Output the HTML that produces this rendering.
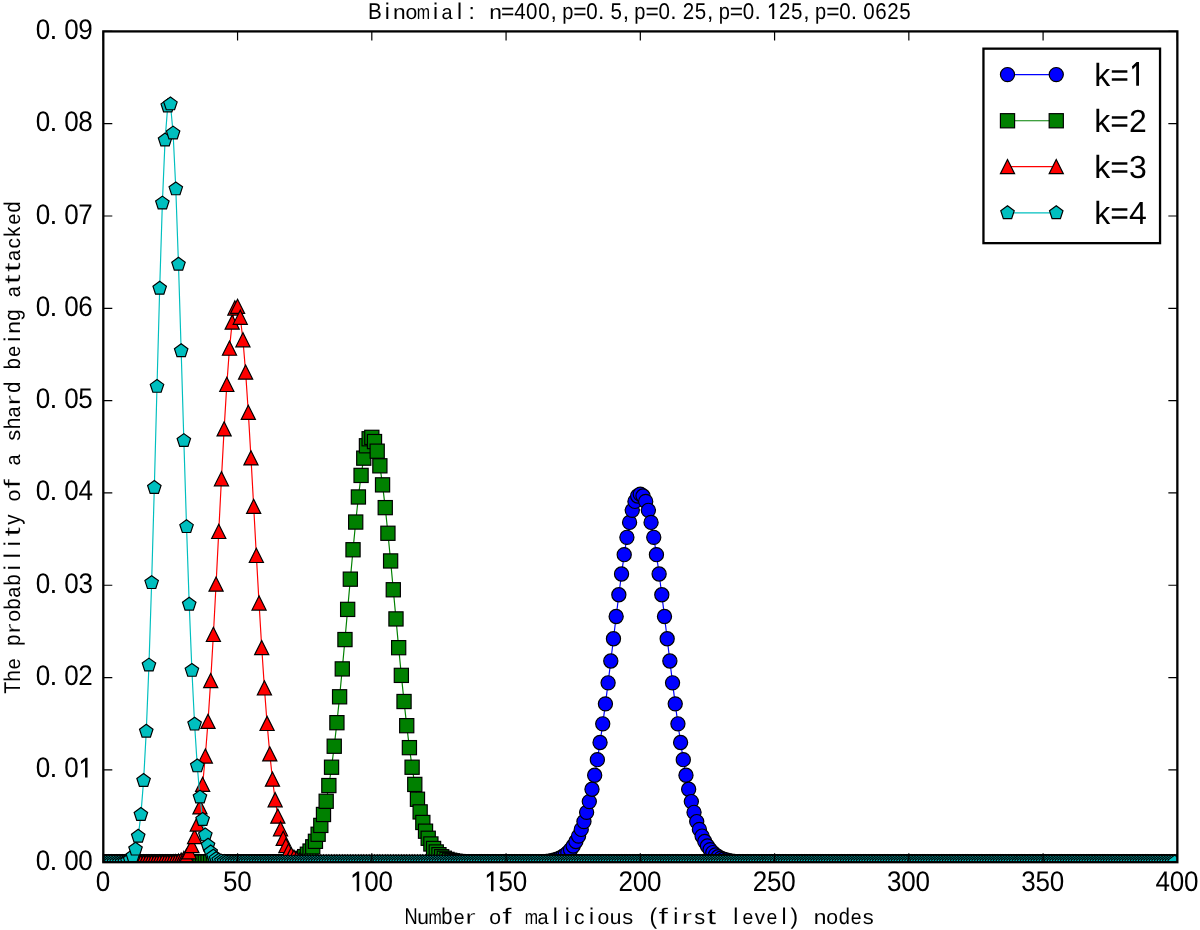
<!DOCTYPE html>
<html><head><meta charset="utf-8"><style>
html,body{margin:0;padding:0;background:#fff;}
svg{display:block;will-change:transform;}
text{font-family:"Liberation Sans",sans-serif;fill:#000;text-rendering:geometricPrecision;}
</style></head><body>
<svg width="1200" height="930" viewBox="0 0 1200 930">
<defs>
<path id="one" d="M0,-.693V0H-.088V-.576L-.232,-.468V-.568L-.065,-.693Z"/>
<circle id="m0" r="7.08" fill="#0000ff" stroke="#000" stroke-width="1.18"/>
<rect id="m1" x="-7.08" y="-7.08" width="14.17" height="14.17" fill="#008000" stroke="#000" stroke-width="1.18"/>
<path id="m2" d="M0,-7.08L-7.08,7.08L7.08,7.08Z" fill="#ff0000" stroke="#000" stroke-width="1.18" stroke-linejoin="miter"/>
<polygon id="m3" points="0,-7.08 6.74,-2.19 4.16,5.73 -4.16,5.73 -6.74,-2.19" fill="#00bfbf" stroke="#000" stroke-width="1.18"/>

<clipPath id="ax"><rect x="103.3" y="31.4" width="1074.05" height="830.8"/></clipPath>
</defs>
<rect width="1200" height="930" fill="#fff"/>
<g clip-path="url(#ax)">
<path d="M103.3,862.2 105.99,862.2 108.67,862.2 111.36,862.2 114.04,862.2 116.73,862.2 119.41,862.2 122.1,862.2 124.78,862.2 127.47,862.2 130.15,862.2 132.84,862.2 135.52,862.2 138.21,862.2 140.89,862.2 143.58,862.2 146.26,862.2 148.95,862.2 151.63,862.2 154.32,862.2 157,862.2 159.69,862.2 162.37,862.2 165.06,862.2 167.74,862.2 170.43,862.2 173.11,862.2 175.8,862.2 178.48,862.2 181.17,862.2 183.85,862.2 186.54,862.2 189.22,862.2 191.91,862.2 194.59,862.2 197.28,862.2 199.96,862.2 202.65,862.2 205.33,862.2 208.02,862.2 210.7,862.2 213.39,862.2 216.08,862.2 218.76,862.2 221.45,862.2 224.13,862.2 226.82,862.2 229.5,862.2 232.19,862.2 234.87,862.2 237.56,862.2 240.24,862.2 242.93,862.2 245.61,862.2 248.3,862.2 250.98,862.2 253.67,862.2 256.35,862.2 259.04,862.2 261.72,862.2 264.41,862.2 267.09,862.2 269.78,862.2 272.46,862.2 275.15,862.2 277.83,862.2 280.52,862.2 283.2,862.2 285.89,862.2 288.57,862.2 291.26,862.2 293.94,862.2 296.63,862.2 299.31,862.2 302,862.2 304.68,862.2 307.37,862.2 310.05,862.2 312.74,862.2 315.42,862.2 318.11,862.2 320.8,862.2 323.48,862.2 326.17,862.2 328.85,862.2 331.54,862.2 334.22,862.2 336.91,862.2 339.59,862.2 342.28,862.2 344.96,862.2 347.65,862.2 350.33,862.2 353.02,862.2 355.7,862.2 358.39,862.2 361.07,862.2 363.76,862.2 366.44,862.2 369.13,862.2 371.81,862.2 374.5,862.2 377.18,862.2 379.87,862.2 382.55,862.2 385.24,862.2 387.92,862.2 390.61,862.2 393.29,862.2 395.98,862.2 398.66,862.2 401.35,862.2 404.03,862.2 406.72,862.2 409.4,862.2 412.09,862.2 414.77,862.2 417.46,862.2 420.14,862.2 422.83,862.2 425.51,862.2 428.2,862.2 430.89,862.2 433.57,862.2 436.26,862.2 438.94,862.2 441.63,862.2 444.31,862.2 447,862.2 449.68,862.2 452.37,862.2 455.05,862.2 457.74,862.2 460.42,862.2 463.11,862.2 465.79,862.2 468.48,862.2 471.16,862.2 473.85,862.2 476.53,862.2 479.22,862.2 481.9,862.2 484.59,862.2 487.27,862.2 489.96,862.2 492.64,862.2 495.33,862.2 498.01,862.2 500.7,862.2 503.38,862.2 506.07,862.2 508.75,862.2 511.44,862.2 514.12,862.19 516.81,862.19 519.49,862.19 522.18,862.18 524.86,862.17 527.55,862.15 530.23,862.12 532.92,862.08 535.61,862.02 538.29,861.94 540.98,861.82 543.66,861.65 546.35,861.41 549.03,861.08 551.72,860.63 554.4,860.02 557.09,859.21 559.77,858.13 562.46,856.73 565.14,854.92 567.83,852.61 570.51,849.68 573.2,846.03 575.88,841.53 578.57,836.05 581.25,829.44 583.94,821.56 586.62,812.31 589.31,801.56 591.99,789.23 594.68,775.27 597.36,759.68 600.05,742.51 602.73,723.84 605.42,703.87 608.1,682.81 610.79,660.98 613.47,638.74 616.16,616.51 618.84,594.76 621.53,573.97 624.21,554.66 626.9,537.31 629.58,522.39 632.27,510.32 634.95,501.43 637.64,495.99 640.32,494.16 643.01,495.99 645.7,501.43 648.38,510.32 651.07,522.39 653.75,537.31 656.44,554.66 659.12,573.97 661.81,594.76 664.49,616.51 667.18,638.74 669.86,660.98 672.55,682.81 675.23,703.87 677.92,723.84 680.6,742.51 683.29,759.68 685.97,775.27 688.66,789.23 691.34,801.56 694.03,812.31 696.71,821.56 699.4,829.44 702.08,836.05 704.77,841.53 707.45,846.03 710.14,849.68 712.82,852.61 715.51,854.92 718.19,856.73 720.88,858.13 723.56,859.21 726.25,860.02 728.93,860.63 731.62,861.08 734.3,861.41 736.99,861.65 739.67,861.82 742.36,861.94 745.04,862.02 747.73,862.08 750.42,862.12 753.1,862.15 755.79,862.17 758.47,862.18 761.16,862.19 763.84,862.19 766.53,862.19 769.21,862.2 771.9,862.2 774.58,862.2 777.27,862.2 779.95,862.2 782.64,862.2 785.32,862.2 788.01,862.2 790.69,862.2 793.38,862.2 796.06,862.2 798.75,862.2 801.43,862.2 804.12,862.2 806.8,862.2 809.49,862.2 812.17,862.2 814.86,862.2 817.54,862.2 820.23,862.2 822.91,862.2 825.6,862.2 828.28,862.2 830.97,862.2 833.65,862.2 836.34,862.2 839.02,862.2 841.71,862.2 844.39,862.2 847.08,862.2 849.76,862.2 852.45,862.2 855.13,862.2 857.82,862.2 860.51,862.2 863.19,862.2 865.88,862.2 868.56,862.2 871.25,862.2 873.93,862.2 876.62,862.2 879.3,862.2 881.99,862.2 884.67,862.2 887.36,862.2 890.04,862.2 892.73,862.2 895.41,862.2 898.1,862.2 900.78,862.2 903.47,862.2 906.15,862.2 908.84,862.2 911.52,862.2 914.21,862.2 916.89,862.2 919.58,862.2 922.26,862.2 924.95,862.2 927.63,862.2 930.32,862.2 933,862.2 935.69,862.2 938.37,862.2 941.06,862.2 943.74,862.2 946.43,862.2 949.11,862.2 951.8,862.2 954.48,862.2 957.17,862.2 959.85,862.2 962.54,862.2 965.23,862.2 967.91,862.2 970.6,862.2 973.28,862.2 975.97,862.2 978.65,862.2 981.34,862.2 984.02,862.2 986.71,862.2 989.39,862.2 992.08,862.2 994.76,862.2 997.45,862.2 1000.13,862.2 1002.82,862.2 1005.5,862.2 1008.19,862.2 1010.87,862.2 1013.56,862.2 1016.24,862.2 1018.93,862.2 1021.61,862.2 1024.3,862.2 1026.98,862.2 1029.67,862.2 1032.35,862.2 1035.04,862.2 1037.72,862.2 1040.41,862.2 1043.09,862.2 1045.78,862.2 1048.46,862.2 1051.15,862.2 1053.83,862.2 1056.52,862.2 1059.2,862.2 1061.89,862.2 1064.57,862.2 1067.26,862.2 1069.94,862.2 1072.63,862.2 1075.32,862.2 1078,862.2 1080.69,862.2 1083.37,862.2 1086.06,862.2 1088.74,862.2 1091.43,862.2 1094.11,862.2 1096.8,862.2 1099.48,862.2 1102.17,862.2 1104.85,862.2 1107.54,862.2 1110.22,862.2 1112.91,862.2 1115.59,862.2 1118.28,862.2 1120.96,862.2 1123.65,862.2 1126.33,862.2 1129.02,862.2 1131.7,862.2 1134.39,862.2 1137.07,862.2 1139.76,862.2 1142.44,862.2 1145.13,862.2 1147.81,862.2 1150.5,862.2 1153.18,862.2 1155.87,862.2 1158.55,862.2 1161.24,862.2 1163.92,862.2 1166.61,862.2 1169.29,862.2 1171.98,862.2 1174.66,862.2" fill="none" stroke="#0000ff" stroke-width="1.18"/>
<use href="#m0" x="103.3" y="862.2"/><use href="#m0" x="105.99" y="862.2"/><use href="#m0" x="108.67" y="862.2"/><use href="#m0" x="111.36" y="862.2"/><use href="#m0" x="114.04" y="862.2"/><use href="#m0" x="116.73" y="862.2"/><use href="#m0" x="119.41" y="862.2"/><use href="#m0" x="122.1" y="862.2"/><use href="#m0" x="124.78" y="862.2"/><use href="#m0" x="127.47" y="862.2"/><use href="#m0" x="130.15" y="862.2"/><use href="#m0" x="132.84" y="862.2"/><use href="#m0" x="135.52" y="862.2"/><use href="#m0" x="138.21" y="862.2"/><use href="#m0" x="140.89" y="862.2"/><use href="#m0" x="143.58" y="862.2"/><use href="#m0" x="146.26" y="862.2"/><use href="#m0" x="148.95" y="862.2"/><use href="#m0" x="151.63" y="862.2"/><use href="#m0" x="154.32" y="862.2"/><use href="#m0" x="157" y="862.2"/><use href="#m0" x="159.69" y="862.2"/><use href="#m0" x="162.37" y="862.2"/><use href="#m0" x="165.06" y="862.2"/><use href="#m0" x="167.74" y="862.2"/><use href="#m0" x="170.43" y="862.2"/><use href="#m0" x="173.11" y="862.2"/><use href="#m0" x="175.8" y="862.2"/><use href="#m0" x="178.48" y="862.2"/><use href="#m0" x="181.17" y="862.2"/><use href="#m0" x="183.85" y="862.2"/><use href="#m0" x="186.54" y="862.2"/><use href="#m0" x="189.22" y="862.2"/><use href="#m0" x="191.91" y="862.2"/><use href="#m0" x="194.59" y="862.2"/><use href="#m0" x="197.28" y="862.2"/><use href="#m0" x="199.96" y="862.2"/><use href="#m0" x="202.65" y="862.2"/><use href="#m0" x="205.33" y="862.2"/><use href="#m0" x="208.02" y="862.2"/><use href="#m0" x="210.7" y="862.2"/><use href="#m0" x="213.39" y="862.2"/><use href="#m0" x="216.08" y="862.2"/><use href="#m0" x="218.76" y="862.2"/><use href="#m0" x="221.45" y="862.2"/><use href="#m0" x="224.13" y="862.2"/><use href="#m0" x="226.82" y="862.2"/><use href="#m0" x="229.5" y="862.2"/><use href="#m0" x="232.19" y="862.2"/><use href="#m0" x="234.87" y="862.2"/><use href="#m0" x="237.56" y="862.2"/><use href="#m0" x="240.24" y="862.2"/><use href="#m0" x="242.93" y="862.2"/><use href="#m0" x="245.61" y="862.2"/><use href="#m0" x="248.3" y="862.2"/><use href="#m0" x="250.98" y="862.2"/><use href="#m0" x="253.67" y="862.2"/><use href="#m0" x="256.35" y="862.2"/><use href="#m0" x="259.04" y="862.2"/><use href="#m0" x="261.72" y="862.2"/><use href="#m0" x="264.41" y="862.2"/><use href="#m0" x="267.09" y="862.2"/><use href="#m0" x="269.78" y="862.2"/><use href="#m0" x="272.46" y="862.2"/><use href="#m0" x="275.15" y="862.2"/><use href="#m0" x="277.83" y="862.2"/><use href="#m0" x="280.52" y="862.2"/><use href="#m0" x="283.2" y="862.2"/><use href="#m0" x="285.89" y="862.2"/><use href="#m0" x="288.57" y="862.2"/><use href="#m0" x="291.26" y="862.2"/><use href="#m0" x="293.94" y="862.2"/><use href="#m0" x="296.63" y="862.2"/><use href="#m0" x="299.31" y="862.2"/><use href="#m0" x="302" y="862.2"/><use href="#m0" x="304.68" y="862.2"/><use href="#m0" x="307.37" y="862.2"/><use href="#m0" x="310.05" y="862.2"/><use href="#m0" x="312.74" y="862.2"/><use href="#m0" x="315.42" y="862.2"/><use href="#m0" x="318.11" y="862.2"/><use href="#m0" x="320.8" y="862.2"/><use href="#m0" x="323.48" y="862.2"/><use href="#m0" x="326.17" y="862.2"/><use href="#m0" x="328.85" y="862.2"/><use href="#m0" x="331.54" y="862.2"/><use href="#m0" x="334.22" y="862.2"/><use href="#m0" x="336.91" y="862.2"/><use href="#m0" x="339.59" y="862.2"/><use href="#m0" x="342.28" y="862.2"/><use href="#m0" x="344.96" y="862.2"/><use href="#m0" x="347.65" y="862.2"/><use href="#m0" x="350.33" y="862.2"/><use href="#m0" x="353.02" y="862.2"/><use href="#m0" x="355.7" y="862.2"/><use href="#m0" x="358.39" y="862.2"/><use href="#m0" x="361.07" y="862.2"/><use href="#m0" x="363.76" y="862.2"/><use href="#m0" x="366.44" y="862.2"/><use href="#m0" x="369.13" y="862.2"/><use href="#m0" x="371.81" y="862.2"/><use href="#m0" x="374.5" y="862.2"/><use href="#m0" x="377.18" y="862.2"/><use href="#m0" x="379.87" y="862.2"/><use href="#m0" x="382.55" y="862.2"/><use href="#m0" x="385.24" y="862.2"/><use href="#m0" x="387.92" y="862.2"/><use href="#m0" x="390.61" y="862.2"/><use href="#m0" x="393.29" y="862.2"/><use href="#m0" x="395.98" y="862.2"/><use href="#m0" x="398.66" y="862.2"/><use href="#m0" x="401.35" y="862.2"/><use href="#m0" x="404.03" y="862.2"/><use href="#m0" x="406.72" y="862.2"/><use href="#m0" x="409.4" y="862.2"/><use href="#m0" x="412.09" y="862.2"/><use href="#m0" x="414.77" y="862.2"/><use href="#m0" x="417.46" y="862.2"/><use href="#m0" x="420.14" y="862.2"/><use href="#m0" x="422.83" y="862.2"/><use href="#m0" x="425.51" y="862.2"/><use href="#m0" x="428.2" y="862.2"/><use href="#m0" x="430.89" y="862.2"/><use href="#m0" x="433.57" y="862.2"/><use href="#m0" x="436.26" y="862.2"/><use href="#m0" x="438.94" y="862.2"/><use href="#m0" x="441.63" y="862.2"/><use href="#m0" x="444.31" y="862.2"/><use href="#m0" x="447" y="862.2"/><use href="#m0" x="449.68" y="862.2"/><use href="#m0" x="452.37" y="862.2"/><use href="#m0" x="455.05" y="862.2"/><use href="#m0" x="457.74" y="862.2"/><use href="#m0" x="460.42" y="862.2"/><use href="#m0" x="463.11" y="862.2"/><use href="#m0" x="465.79" y="862.2"/><use href="#m0" x="468.48" y="862.2"/><use href="#m0" x="471.16" y="862.2"/><use href="#m0" x="473.85" y="862.2"/><use href="#m0" x="476.53" y="862.2"/><use href="#m0" x="479.22" y="862.2"/><use href="#m0" x="481.9" y="862.2"/><use href="#m0" x="484.59" y="862.2"/><use href="#m0" x="487.27" y="862.2"/><use href="#m0" x="489.96" y="862.2"/><use href="#m0" x="492.64" y="862.2"/><use href="#m0" x="495.33" y="862.2"/><use href="#m0" x="498.01" y="862.2"/><use href="#m0" x="500.7" y="862.2"/><use href="#m0" x="503.38" y="862.2"/><use href="#m0" x="506.07" y="862.2"/><use href="#m0" x="508.75" y="862.2"/><use href="#m0" x="511.44" y="862.2"/><use href="#m0" x="514.12" y="862.19"/><use href="#m0" x="516.81" y="862.19"/><use href="#m0" x="519.49" y="862.19"/><use href="#m0" x="522.18" y="862.18"/><use href="#m0" x="524.86" y="862.17"/><use href="#m0" x="527.55" y="862.15"/><use href="#m0" x="530.23" y="862.12"/><use href="#m0" x="532.92" y="862.08"/><use href="#m0" x="535.61" y="862.02"/><use href="#m0" x="538.29" y="861.94"/><use href="#m0" x="540.98" y="861.82"/><use href="#m0" x="543.66" y="861.65"/><use href="#m0" x="546.35" y="861.41"/><use href="#m0" x="549.03" y="861.08"/><use href="#m0" x="551.72" y="860.63"/><use href="#m0" x="554.4" y="860.02"/><use href="#m0" x="557.09" y="859.21"/><use href="#m0" x="559.77" y="858.13"/><use href="#m0" x="562.46" y="856.73"/><use href="#m0" x="565.14" y="854.92"/><use href="#m0" x="567.83" y="852.61"/><use href="#m0" x="570.51" y="849.68"/><use href="#m0" x="573.2" y="846.03"/><use href="#m0" x="575.88" y="841.53"/><use href="#m0" x="578.57" y="836.05"/><use href="#m0" x="581.25" y="829.44"/><use href="#m0" x="583.94" y="821.56"/><use href="#m0" x="586.62" y="812.31"/><use href="#m0" x="589.31" y="801.56"/><use href="#m0" x="591.99" y="789.23"/><use href="#m0" x="594.68" y="775.27"/><use href="#m0" x="597.36" y="759.68"/><use href="#m0" x="600.05" y="742.51"/><use href="#m0" x="602.73" y="723.84"/><use href="#m0" x="605.42" y="703.87"/><use href="#m0" x="608.1" y="682.81"/><use href="#m0" x="610.79" y="660.98"/><use href="#m0" x="613.47" y="638.74"/><use href="#m0" x="616.16" y="616.51"/><use href="#m0" x="618.84" y="594.76"/><use href="#m0" x="621.53" y="573.97"/><use href="#m0" x="624.21" y="554.66"/><use href="#m0" x="626.9" y="537.31"/><use href="#m0" x="629.58" y="522.39"/><use href="#m0" x="632.27" y="510.32"/><use href="#m0" x="634.95" y="501.43"/><use href="#m0" x="637.64" y="495.99"/><use href="#m0" x="640.32" y="494.16"/><use href="#m0" x="643.01" y="495.99"/><use href="#m0" x="645.7" y="501.43"/><use href="#m0" x="648.38" y="510.32"/><use href="#m0" x="651.07" y="522.39"/><use href="#m0" x="653.75" y="537.31"/><use href="#m0" x="656.44" y="554.66"/><use href="#m0" x="659.12" y="573.97"/><use href="#m0" x="661.81" y="594.76"/><use href="#m0" x="664.49" y="616.51"/><use href="#m0" x="667.18" y="638.74"/><use href="#m0" x="669.86" y="660.98"/><use href="#m0" x="672.55" y="682.81"/><use href="#m0" x="675.23" y="703.87"/><use href="#m0" x="677.92" y="723.84"/><use href="#m0" x="680.6" y="742.51"/><use href="#m0" x="683.29" y="759.68"/><use href="#m0" x="685.97" y="775.27"/><use href="#m0" x="688.66" y="789.23"/><use href="#m0" x="691.34" y="801.56"/><use href="#m0" x="694.03" y="812.31"/><use href="#m0" x="696.71" y="821.56"/><use href="#m0" x="699.4" y="829.44"/><use href="#m0" x="702.08" y="836.05"/><use href="#m0" x="704.77" y="841.53"/><use href="#m0" x="707.45" y="846.03"/><use href="#m0" x="710.14" y="849.68"/><use href="#m0" x="712.82" y="852.61"/><use href="#m0" x="715.51" y="854.92"/><use href="#m0" x="718.19" y="856.73"/><use href="#m0" x="720.88" y="858.13"/><use href="#m0" x="723.56" y="859.21"/><use href="#m0" x="726.25" y="860.02"/><use href="#m0" x="728.93" y="860.63"/><use href="#m0" x="731.62" y="861.08"/><use href="#m0" x="734.3" y="861.41"/><use href="#m0" x="736.99" y="861.65"/><use href="#m0" x="739.67" y="861.82"/><use href="#m0" x="742.36" y="861.94"/><use href="#m0" x="745.04" y="862.02"/><use href="#m0" x="747.73" y="862.08"/><use href="#m0" x="750.42" y="862.12"/><use href="#m0" x="753.1" y="862.15"/><use href="#m0" x="755.79" y="862.17"/><use href="#m0" x="758.47" y="862.18"/><use href="#m0" x="761.16" y="862.19"/><use href="#m0" x="763.84" y="862.19"/><use href="#m0" x="766.53" y="862.19"/><use href="#m0" x="769.21" y="862.2"/><use href="#m0" x="771.9" y="862.2"/><use href="#m0" x="774.58" y="862.2"/><use href="#m0" x="777.27" y="862.2"/><use href="#m0" x="779.95" y="862.2"/><use href="#m0" x="782.64" y="862.2"/><use href="#m0" x="785.32" y="862.2"/><use href="#m0" x="788.01" y="862.2"/><use href="#m0" x="790.69" y="862.2"/><use href="#m0" x="793.38" y="862.2"/><use href="#m0" x="796.06" y="862.2"/><use href="#m0" x="798.75" y="862.2"/><use href="#m0" x="801.43" y="862.2"/><use href="#m0" x="804.12" y="862.2"/><use href="#m0" x="806.8" y="862.2"/><use href="#m0" x="809.49" y="862.2"/><use href="#m0" x="812.17" y="862.2"/><use href="#m0" x="814.86" y="862.2"/><use href="#m0" x="817.54" y="862.2"/><use href="#m0" x="820.23" y="862.2"/><use href="#m0" x="822.91" y="862.2"/><use href="#m0" x="825.6" y="862.2"/><use href="#m0" x="828.28" y="862.2"/><use href="#m0" x="830.97" y="862.2"/><use href="#m0" x="833.65" y="862.2"/><use href="#m0" x="836.34" y="862.2"/><use href="#m0" x="839.02" y="862.2"/><use href="#m0" x="841.71" y="862.2"/><use href="#m0" x="844.39" y="862.2"/><use href="#m0" x="847.08" y="862.2"/><use href="#m0" x="849.76" y="862.2"/><use href="#m0" x="852.45" y="862.2"/><use href="#m0" x="855.13" y="862.2"/><use href="#m0" x="857.82" y="862.2"/><use href="#m0" x="860.51" y="862.2"/><use href="#m0" x="863.19" y="862.2"/><use href="#m0" x="865.88" y="862.2"/><use href="#m0" x="868.56" y="862.2"/><use href="#m0" x="871.25" y="862.2"/><use href="#m0" x="873.93" y="862.2"/><use href="#m0" x="876.62" y="862.2"/><use href="#m0" x="879.3" y="862.2"/><use href="#m0" x="881.99" y="862.2"/><use href="#m0" x="884.67" y="862.2"/><use href="#m0" x="887.36" y="862.2"/><use href="#m0" x="890.04" y="862.2"/><use href="#m0" x="892.73" y="862.2"/><use href="#m0" x="895.41" y="862.2"/><use href="#m0" x="898.1" y="862.2"/><use href="#m0" x="900.78" y="862.2"/><use href="#m0" x="903.47" y="862.2"/><use href="#m0" x="906.15" y="862.2"/><use href="#m0" x="908.84" y="862.2"/><use href="#m0" x="911.52" y="862.2"/><use href="#m0" x="914.21" y="862.2"/><use href="#m0" x="916.89" y="862.2"/><use href="#m0" x="919.58" y="862.2"/><use href="#m0" x="922.26" y="862.2"/><use href="#m0" x="924.95" y="862.2"/><use href="#m0" x="927.63" y="862.2"/><use href="#m0" x="930.32" y="862.2"/><use href="#m0" x="933" y="862.2"/><use href="#m0" x="935.69" y="862.2"/><use href="#m0" x="938.37" y="862.2"/><use href="#m0" x="941.06" y="862.2"/><use href="#m0" x="943.74" y="862.2"/><use href="#m0" x="946.43" y="862.2"/><use href="#m0" x="949.11" y="862.2"/><use href="#m0" x="951.8" y="862.2"/><use href="#m0" x="954.48" y="862.2"/><use href="#m0" x="957.17" y="862.2"/><use href="#m0" x="959.85" y="862.2"/><use href="#m0" x="962.54" y="862.2"/><use href="#m0" x="965.23" y="862.2"/><use href="#m0" x="967.91" y="862.2"/><use href="#m0" x="970.6" y="862.2"/><use href="#m0" x="973.28" y="862.2"/><use href="#m0" x="975.97" y="862.2"/><use href="#m0" x="978.65" y="862.2"/><use href="#m0" x="981.34" y="862.2"/><use href="#m0" x="984.02" y="862.2"/><use href="#m0" x="986.71" y="862.2"/><use href="#m0" x="989.39" y="862.2"/><use href="#m0" x="992.08" y="862.2"/><use href="#m0" x="994.76" y="862.2"/><use href="#m0" x="997.45" y="862.2"/><use href="#m0" x="1000.13" y="862.2"/><use href="#m0" x="1002.82" y="862.2"/><use href="#m0" x="1005.5" y="862.2"/><use href="#m0" x="1008.19" y="862.2"/><use href="#m0" x="1010.87" y="862.2"/><use href="#m0" x="1013.56" y="862.2"/><use href="#m0" x="1016.24" y="862.2"/><use href="#m0" x="1018.93" y="862.2"/><use href="#m0" x="1021.61" y="862.2"/><use href="#m0" x="1024.3" y="862.2"/><use href="#m0" x="1026.98" y="862.2"/><use href="#m0" x="1029.67" y="862.2"/><use href="#m0" x="1032.35" y="862.2"/><use href="#m0" x="1035.04" y="862.2"/><use href="#m0" x="1037.72" y="862.2"/><use href="#m0" x="1040.41" y="862.2"/><use href="#m0" x="1043.09" y="862.2"/><use href="#m0" x="1045.78" y="862.2"/><use href="#m0" x="1048.46" y="862.2"/><use href="#m0" x="1051.15" y="862.2"/><use href="#m0" x="1053.83" y="862.2"/><use href="#m0" x="1056.52" y="862.2"/><use href="#m0" x="1059.2" y="862.2"/><use href="#m0" x="1061.89" y="862.2"/><use href="#m0" x="1064.57" y="862.2"/><use href="#m0" x="1067.26" y="862.2"/><use href="#m0" x="1069.94" y="862.2"/><use href="#m0" x="1072.63" y="862.2"/><use href="#m0" x="1075.32" y="862.2"/><use href="#m0" x="1078" y="862.2"/><use href="#m0" x="1080.69" y="862.2"/><use href="#m0" x="1083.37" y="862.2"/><use href="#m0" x="1086.06" y="862.2"/><use href="#m0" x="1088.74" y="862.2"/><use href="#m0" x="1091.43" y="862.2"/><use href="#m0" x="1094.11" y="862.2"/><use href="#m0" x="1096.8" y="862.2"/><use href="#m0" x="1099.48" y="862.2"/><use href="#m0" x="1102.17" y="862.2"/><use href="#m0" x="1104.85" y="862.2"/><use href="#m0" x="1107.54" y="862.2"/><use href="#m0" x="1110.22" y="862.2"/><use href="#m0" x="1112.91" y="862.2"/><use href="#m0" x="1115.59" y="862.2"/><use href="#m0" x="1118.28" y="862.2"/><use href="#m0" x="1120.96" y="862.2"/><use href="#m0" x="1123.65" y="862.2"/><use href="#m0" x="1126.33" y="862.2"/><use href="#m0" x="1129.02" y="862.2"/><use href="#m0" x="1131.7" y="862.2"/><use href="#m0" x="1134.39" y="862.2"/><use href="#m0" x="1137.07" y="862.2"/><use href="#m0" x="1139.76" y="862.2"/><use href="#m0" x="1142.44" y="862.2"/><use href="#m0" x="1145.13" y="862.2"/><use href="#m0" x="1147.81" y="862.2"/><use href="#m0" x="1150.5" y="862.2"/><use href="#m0" x="1153.18" y="862.2"/><use href="#m0" x="1155.87" y="862.2"/><use href="#m0" x="1158.55" y="862.2"/><use href="#m0" x="1161.24" y="862.2"/><use href="#m0" x="1163.92" y="862.2"/><use href="#m0" x="1166.61" y="862.2"/><use href="#m0" x="1169.29" y="862.2"/><use href="#m0" x="1171.98" y="862.2"/><use href="#m0" x="1174.66" y="862.2"/><path d="M103.3,862.2 105.99,862.2 108.67,862.2 111.36,862.2 114.04,862.2 116.73,862.2 119.41,862.2 122.1,862.2 124.78,862.2 127.47,862.2 130.15,862.2 132.84,862.2 135.52,862.2 138.21,862.2 140.89,862.2 143.58,862.2 146.26,862.2 148.95,862.2 151.63,862.2 154.32,862.2 157,862.2 159.69,862.2 162.37,862.2 165.06,862.2 167.74,862.2 170.43,862.2 173.11,862.2 175.8,862.2 178.48,862.2 181.17,862.2 183.85,862.2 186.54,862.2 189.22,862.2 191.91,862.2 194.59,862.2 197.28,862.2 199.96,862.2 202.65,862.2 205.33,862.2 208.02,862.2 210.7,862.2 213.39,862.2 216.08,862.2 218.76,862.2 221.45,862.2 224.13,862.2 226.82,862.2 229.5,862.2 232.19,862.2 234.87,862.2 237.56,862.2 240.24,862.2 242.93,862.2 245.61,862.2 248.3,862.2 250.98,862.2 253.67,862.2 256.35,862.2 259.04,862.2 261.72,862.2 264.41,862.2 267.09,862.19 269.78,862.19 272.46,862.18 275.15,862.16 277.83,862.14 280.52,862.09 283.2,862.02 285.89,861.91 288.57,861.73 291.26,861.46 293.94,861.06 296.63,860.46 299.31,859.59 302,858.35 304.68,856.63 307.37,854.26 310.05,851.06 312.74,846.83 315.42,841.31 318.11,834.26 320.8,825.41 323.48,814.49 326.17,801.27 328.85,785.55 331.54,767.22 334.22,746.23 336.91,722.68 339.59,696.79 342.28,668.91 344.96,639.56 347.65,609.39 350.33,579.16 353.02,549.74 355.7,522.04 358.39,496.97 361.07,475.41 363.76,458.14 366.44,445.77 369.13,438.76 371.81,437.34 374.5,441.55 377.18,451.17 379.87,465.81 382.55,484.86 385.24,507.62 387.92,533.27 390.61,560.94 393.29,589.76 395.98,618.92 398.66,647.67 401.35,675.37 404.03,701.51 406.72,725.68 409.4,747.64 412.09,767.23 414.77,784.42 417.46,799.27 420.14,811.89 422.83,822.46 425.51,831.18 428.2,838.27 430.89,843.96 433.57,848.46 436.26,851.97 438.94,854.67 441.63,856.72 444.31,858.26 447,859.4 449.68,860.23 452.37,860.83 455.05,861.26 457.74,861.56 460.42,861.77 463.11,861.92 465.79,862.01 468.48,862.08 471.16,862.12 473.85,862.15 476.53,862.17 479.22,862.18 481.9,862.19 484.59,862.19 487.27,862.2 489.96,862.2 492.64,862.2 495.33,862.2 498.01,862.2 500.7,862.2 503.38,862.2 506.07,862.2 508.75,862.2 511.44,862.2 514.12,862.2 516.81,862.2 519.49,862.2 522.18,862.2 524.86,862.2 527.55,862.2 530.23,862.2 532.92,862.2 535.61,862.2 538.29,862.2 540.98,862.2 543.66,862.2 546.35,862.2 549.03,862.2 551.72,862.2 554.4,862.2 557.09,862.2 559.77,862.2 562.46,862.2 565.14,862.2 567.83,862.2 570.51,862.2 573.2,862.2 575.88,862.2 578.57,862.2 581.25,862.2 583.94,862.2 586.62,862.2 589.31,862.2 591.99,862.2 594.68,862.2 597.36,862.2 600.05,862.2 602.73,862.2 605.42,862.2 608.1,862.2 610.79,862.2 613.47,862.2 616.16,862.2 618.84,862.2 621.53,862.2 624.21,862.2 626.9,862.2 629.58,862.2 632.27,862.2 634.95,862.2 637.64,862.2 640.32,862.2 643.01,862.2 645.7,862.2 648.38,862.2 651.07,862.2 653.75,862.2 656.44,862.2 659.12,862.2 661.81,862.2 664.49,862.2 667.18,862.2 669.86,862.2 672.55,862.2 675.23,862.2 677.92,862.2 680.6,862.2 683.29,862.2 685.97,862.2 688.66,862.2 691.34,862.2 694.03,862.2 696.71,862.2 699.4,862.2 702.08,862.2 704.77,862.2 707.45,862.2 710.14,862.2 712.82,862.2 715.51,862.2 718.19,862.2 720.88,862.2 723.56,862.2 726.25,862.2 728.93,862.2 731.62,862.2 734.3,862.2 736.99,862.2 739.67,862.2 742.36,862.2 745.04,862.2 747.73,862.2 750.42,862.2 753.1,862.2 755.79,862.2 758.47,862.2 761.16,862.2 763.84,862.2 766.53,862.2 769.21,862.2 771.9,862.2 774.58,862.2 777.27,862.2 779.95,862.2 782.64,862.2 785.32,862.2 788.01,862.2 790.69,862.2 793.38,862.2 796.06,862.2 798.75,862.2 801.43,862.2 804.12,862.2 806.8,862.2 809.49,862.2 812.17,862.2 814.86,862.2 817.54,862.2 820.23,862.2 822.91,862.2 825.6,862.2 828.28,862.2 830.97,862.2 833.65,862.2 836.34,862.2 839.02,862.2 841.71,862.2 844.39,862.2 847.08,862.2 849.76,862.2 852.45,862.2 855.13,862.2 857.82,862.2 860.51,862.2 863.19,862.2 865.88,862.2 868.56,862.2 871.25,862.2 873.93,862.2 876.62,862.2 879.3,862.2 881.99,862.2 884.67,862.2 887.36,862.2 890.04,862.2 892.73,862.2 895.41,862.2 898.1,862.2 900.78,862.2 903.47,862.2 906.15,862.2 908.84,862.2 911.52,862.2 914.21,862.2 916.89,862.2 919.58,862.2 922.26,862.2 924.95,862.2 927.63,862.2 930.32,862.2 933,862.2 935.69,862.2 938.37,862.2 941.06,862.2 943.74,862.2 946.43,862.2 949.11,862.2 951.8,862.2 954.48,862.2 957.17,862.2 959.85,862.2 962.54,862.2 965.23,862.2 967.91,862.2 970.6,862.2 973.28,862.2 975.97,862.2 978.65,862.2 981.34,862.2 984.02,862.2 986.71,862.2 989.39,862.2 992.08,862.2 994.76,862.2 997.45,862.2 1000.13,862.2 1002.82,862.2 1005.5,862.2 1008.19,862.2 1010.87,862.2 1013.56,862.2 1016.24,862.2 1018.93,862.2 1021.61,862.2 1024.3,862.2 1026.98,862.2 1029.67,862.2 1032.35,862.2 1035.04,862.2 1037.72,862.2 1040.41,862.2 1043.09,862.2 1045.78,862.2 1048.46,862.2 1051.15,862.2 1053.83,862.2 1056.52,862.2 1059.2,862.2 1061.89,862.2 1064.57,862.2 1067.26,862.2 1069.94,862.2 1072.63,862.2 1075.32,862.2 1078,862.2 1080.69,862.2 1083.37,862.2 1086.06,862.2 1088.74,862.2 1091.43,862.2 1094.11,862.2 1096.8,862.2 1099.48,862.2 1102.17,862.2 1104.85,862.2 1107.54,862.2 1110.22,862.2 1112.91,862.2 1115.59,862.2 1118.28,862.2 1120.96,862.2 1123.65,862.2 1126.33,862.2 1129.02,862.2 1131.7,862.2 1134.39,862.2 1137.07,862.2 1139.76,862.2 1142.44,862.2 1145.13,862.2 1147.81,862.2 1150.5,862.2 1153.18,862.2 1155.87,862.2 1158.55,862.2 1161.24,862.2 1163.92,862.2 1166.61,862.2 1169.29,862.2 1171.98,862.2 1174.66,862.2" fill="none" stroke="#008000" stroke-width="1.18"/>
<use href="#m1" x="103.3" y="862.2"/><use href="#m1" x="105.99" y="862.2"/><use href="#m1" x="108.67" y="862.2"/><use href="#m1" x="111.36" y="862.2"/><use href="#m1" x="114.04" y="862.2"/><use href="#m1" x="116.73" y="862.2"/><use href="#m1" x="119.41" y="862.2"/><use href="#m1" x="122.1" y="862.2"/><use href="#m1" x="124.78" y="862.2"/><use href="#m1" x="127.47" y="862.2"/><use href="#m1" x="130.15" y="862.2"/><use href="#m1" x="132.84" y="862.2"/><use href="#m1" x="135.52" y="862.2"/><use href="#m1" x="138.21" y="862.2"/><use href="#m1" x="140.89" y="862.2"/><use href="#m1" x="143.58" y="862.2"/><use href="#m1" x="146.26" y="862.2"/><use href="#m1" x="148.95" y="862.2"/><use href="#m1" x="151.63" y="862.2"/><use href="#m1" x="154.32" y="862.2"/><use href="#m1" x="157" y="862.2"/><use href="#m1" x="159.69" y="862.2"/><use href="#m1" x="162.37" y="862.2"/><use href="#m1" x="165.06" y="862.2"/><use href="#m1" x="167.74" y="862.2"/><use href="#m1" x="170.43" y="862.2"/><use href="#m1" x="173.11" y="862.2"/><use href="#m1" x="175.8" y="862.2"/><use href="#m1" x="178.48" y="862.2"/><use href="#m1" x="181.17" y="862.2"/><use href="#m1" x="183.85" y="862.2"/><use href="#m1" x="186.54" y="862.2"/><use href="#m1" x="189.22" y="862.2"/><use href="#m1" x="191.91" y="862.2"/><use href="#m1" x="194.59" y="862.2"/><use href="#m1" x="197.28" y="862.2"/><use href="#m1" x="199.96" y="862.2"/><use href="#m1" x="202.65" y="862.2"/><use href="#m1" x="205.33" y="862.2"/><use href="#m1" x="208.02" y="862.2"/><use href="#m1" x="210.7" y="862.2"/><use href="#m1" x="213.39" y="862.2"/><use href="#m1" x="216.08" y="862.2"/><use href="#m1" x="218.76" y="862.2"/><use href="#m1" x="221.45" y="862.2"/><use href="#m1" x="224.13" y="862.2"/><use href="#m1" x="226.82" y="862.2"/><use href="#m1" x="229.5" y="862.2"/><use href="#m1" x="232.19" y="862.2"/><use href="#m1" x="234.87" y="862.2"/><use href="#m1" x="237.56" y="862.2"/><use href="#m1" x="240.24" y="862.2"/><use href="#m1" x="242.93" y="862.2"/><use href="#m1" x="245.61" y="862.2"/><use href="#m1" x="248.3" y="862.2"/><use href="#m1" x="250.98" y="862.2"/><use href="#m1" x="253.67" y="862.2"/><use href="#m1" x="256.35" y="862.2"/><use href="#m1" x="259.04" y="862.2"/><use href="#m1" x="261.72" y="862.2"/><use href="#m1" x="264.41" y="862.2"/><use href="#m1" x="267.09" y="862.19"/><use href="#m1" x="269.78" y="862.19"/><use href="#m1" x="272.46" y="862.18"/><use href="#m1" x="275.15" y="862.16"/><use href="#m1" x="277.83" y="862.14"/><use href="#m1" x="280.52" y="862.09"/><use href="#m1" x="283.2" y="862.02"/><use href="#m1" x="285.89" y="861.91"/><use href="#m1" x="288.57" y="861.73"/><use href="#m1" x="291.26" y="861.46"/><use href="#m1" x="293.94" y="861.06"/><use href="#m1" x="296.63" y="860.46"/><use href="#m1" x="299.31" y="859.59"/><use href="#m1" x="302" y="858.35"/><use href="#m1" x="304.68" y="856.63"/><use href="#m1" x="307.37" y="854.26"/><use href="#m1" x="310.05" y="851.06"/><use href="#m1" x="312.74" y="846.83"/><use href="#m1" x="315.42" y="841.31"/><use href="#m1" x="318.11" y="834.26"/><use href="#m1" x="320.8" y="825.41"/><use href="#m1" x="323.48" y="814.49"/><use href="#m1" x="326.17" y="801.27"/><use href="#m1" x="328.85" y="785.55"/><use href="#m1" x="331.54" y="767.22"/><use href="#m1" x="334.22" y="746.23"/><use href="#m1" x="336.91" y="722.68"/><use href="#m1" x="339.59" y="696.79"/><use href="#m1" x="342.28" y="668.91"/><use href="#m1" x="344.96" y="639.56"/><use href="#m1" x="347.65" y="609.39"/><use href="#m1" x="350.33" y="579.16"/><use href="#m1" x="353.02" y="549.74"/><use href="#m1" x="355.7" y="522.04"/><use href="#m1" x="358.39" y="496.97"/><use href="#m1" x="361.07" y="475.41"/><use href="#m1" x="363.76" y="458.14"/><use href="#m1" x="366.44" y="445.77"/><use href="#m1" x="369.13" y="438.76"/><use href="#m1" x="371.81" y="437.34"/><use href="#m1" x="374.5" y="441.55"/><use href="#m1" x="377.18" y="451.17"/><use href="#m1" x="379.87" y="465.81"/><use href="#m1" x="382.55" y="484.86"/><use href="#m1" x="385.24" y="507.62"/><use href="#m1" x="387.92" y="533.27"/><use href="#m1" x="390.61" y="560.94"/><use href="#m1" x="393.29" y="589.76"/><use href="#m1" x="395.98" y="618.92"/><use href="#m1" x="398.66" y="647.67"/><use href="#m1" x="401.35" y="675.37"/><use href="#m1" x="404.03" y="701.51"/><use href="#m1" x="406.72" y="725.68"/><use href="#m1" x="409.4" y="747.64"/><use href="#m1" x="412.09" y="767.23"/><use href="#m1" x="414.77" y="784.42"/><use href="#m1" x="417.46" y="799.27"/><use href="#m1" x="420.14" y="811.89"/><use href="#m1" x="422.83" y="822.46"/><use href="#m1" x="425.51" y="831.18"/><use href="#m1" x="428.2" y="838.27"/><use href="#m1" x="430.89" y="843.96"/><use href="#m1" x="433.57" y="848.46"/><use href="#m1" x="436.26" y="851.97"/><use href="#m1" x="438.94" y="854.67"/><use href="#m1" x="441.63" y="856.72"/><use href="#m1" x="444.31" y="858.26"/><use href="#m1" x="447" y="859.4"/><use href="#m1" x="449.68" y="860.23"/><use href="#m1" x="452.37" y="860.83"/><use href="#m1" x="455.05" y="861.26"/><use href="#m1" x="457.74" y="861.56"/><use href="#m1" x="460.42" y="861.77"/><use href="#m1" x="463.11" y="861.92"/><use href="#m1" x="465.79" y="862.01"/><use href="#m1" x="468.48" y="862.08"/><use href="#m1" x="471.16" y="862.12"/><use href="#m1" x="473.85" y="862.15"/><use href="#m1" x="476.53" y="862.17"/><use href="#m1" x="479.22" y="862.18"/><use href="#m1" x="481.9" y="862.19"/><use href="#m1" x="484.59" y="862.19"/><use href="#m1" x="487.27" y="862.2"/><use href="#m1" x="489.96" y="862.2"/><use href="#m1" x="492.64" y="862.2"/><use href="#m1" x="495.33" y="862.2"/><use href="#m1" x="498.01" y="862.2"/><use href="#m1" x="500.7" y="862.2"/><use href="#m1" x="503.38" y="862.2"/><use href="#m1" x="506.07" y="862.2"/><use href="#m1" x="508.75" y="862.2"/><use href="#m1" x="511.44" y="862.2"/><use href="#m1" x="514.12" y="862.2"/><use href="#m1" x="516.81" y="862.2"/><use href="#m1" x="519.49" y="862.2"/><use href="#m1" x="522.18" y="862.2"/><use href="#m1" x="524.86" y="862.2"/><use href="#m1" x="527.55" y="862.2"/><use href="#m1" x="530.23" y="862.2"/><use href="#m1" x="532.92" y="862.2"/><use href="#m1" x="535.61" y="862.2"/><use href="#m1" x="538.29" y="862.2"/><use href="#m1" x="540.98" y="862.2"/><use href="#m1" x="543.66" y="862.2"/><use href="#m1" x="546.35" y="862.2"/><use href="#m1" x="549.03" y="862.2"/><use href="#m1" x="551.72" y="862.2"/><use href="#m1" x="554.4" y="862.2"/><use href="#m1" x="557.09" y="862.2"/><use href="#m1" x="559.77" y="862.2"/><use href="#m1" x="562.46" y="862.2"/><use href="#m1" x="565.14" y="862.2"/><use href="#m1" x="567.83" y="862.2"/><use href="#m1" x="570.51" y="862.2"/><use href="#m1" x="573.2" y="862.2"/><use href="#m1" x="575.88" y="862.2"/><use href="#m1" x="578.57" y="862.2"/><use href="#m1" x="581.25" y="862.2"/><use href="#m1" x="583.94" y="862.2"/><use href="#m1" x="586.62" y="862.2"/><use href="#m1" x="589.31" y="862.2"/><use href="#m1" x="591.99" y="862.2"/><use href="#m1" x="594.68" y="862.2"/><use href="#m1" x="597.36" y="862.2"/><use href="#m1" x="600.05" y="862.2"/><use href="#m1" x="602.73" y="862.2"/><use href="#m1" x="605.42" y="862.2"/><use href="#m1" x="608.1" y="862.2"/><use href="#m1" x="610.79" y="862.2"/><use href="#m1" x="613.47" y="862.2"/><use href="#m1" x="616.16" y="862.2"/><use href="#m1" x="618.84" y="862.2"/><use href="#m1" x="621.53" y="862.2"/><use href="#m1" x="624.21" y="862.2"/><use href="#m1" x="626.9" y="862.2"/><use href="#m1" x="629.58" y="862.2"/><use href="#m1" x="632.27" y="862.2"/><use href="#m1" x="634.95" y="862.2"/><use href="#m1" x="637.64" y="862.2"/><use href="#m1" x="640.32" y="862.2"/><use href="#m1" x="643.01" y="862.2"/><use href="#m1" x="645.7" y="862.2"/><use href="#m1" x="648.38" y="862.2"/><use href="#m1" x="651.07" y="862.2"/><use href="#m1" x="653.75" y="862.2"/><use href="#m1" x="656.44" y="862.2"/><use href="#m1" x="659.12" y="862.2"/><use href="#m1" x="661.81" y="862.2"/><use href="#m1" x="664.49" y="862.2"/><use href="#m1" x="667.18" y="862.2"/><use href="#m1" x="669.86" y="862.2"/><use href="#m1" x="672.55" y="862.2"/><use href="#m1" x="675.23" y="862.2"/><use href="#m1" x="677.92" y="862.2"/><use href="#m1" x="680.6" y="862.2"/><use href="#m1" x="683.29" y="862.2"/><use href="#m1" x="685.97" y="862.2"/><use href="#m1" x="688.66" y="862.2"/><use href="#m1" x="691.34" y="862.2"/><use href="#m1" x="694.03" y="862.2"/><use href="#m1" x="696.71" y="862.2"/><use href="#m1" x="699.4" y="862.2"/><use href="#m1" x="702.08" y="862.2"/><use href="#m1" x="704.77" y="862.2"/><use href="#m1" x="707.45" y="862.2"/><use href="#m1" x="710.14" y="862.2"/><use href="#m1" x="712.82" y="862.2"/><use href="#m1" x="715.51" y="862.2"/><use href="#m1" x="718.19" y="862.2"/><use href="#m1" x="720.88" y="862.2"/><use href="#m1" x="723.56" y="862.2"/><use href="#m1" x="726.25" y="862.2"/><use href="#m1" x="728.93" y="862.2"/><use href="#m1" x="731.62" y="862.2"/><use href="#m1" x="734.3" y="862.2"/><use href="#m1" x="736.99" y="862.2"/><use href="#m1" x="739.67" y="862.2"/><use href="#m1" x="742.36" y="862.2"/><use href="#m1" x="745.04" y="862.2"/><use href="#m1" x="747.73" y="862.2"/><use href="#m1" x="750.42" y="862.2"/><use href="#m1" x="753.1" y="862.2"/><use href="#m1" x="755.79" y="862.2"/><use href="#m1" x="758.47" y="862.2"/><use href="#m1" x="761.16" y="862.2"/><use href="#m1" x="763.84" y="862.2"/><use href="#m1" x="766.53" y="862.2"/><use href="#m1" x="769.21" y="862.2"/><use href="#m1" x="771.9" y="862.2"/><use href="#m1" x="774.58" y="862.2"/><use href="#m1" x="777.27" y="862.2"/><use href="#m1" x="779.95" y="862.2"/><use href="#m1" x="782.64" y="862.2"/><use href="#m1" x="785.32" y="862.2"/><use href="#m1" x="788.01" y="862.2"/><use href="#m1" x="790.69" y="862.2"/><use href="#m1" x="793.38" y="862.2"/><use href="#m1" x="796.06" y="862.2"/><use href="#m1" x="798.75" y="862.2"/><use href="#m1" x="801.43" y="862.2"/><use href="#m1" x="804.12" y="862.2"/><use href="#m1" x="806.8" y="862.2"/><use href="#m1" x="809.49" y="862.2"/><use href="#m1" x="812.17" y="862.2"/><use href="#m1" x="814.86" y="862.2"/><use href="#m1" x="817.54" y="862.2"/><use href="#m1" x="820.23" y="862.2"/><use href="#m1" x="822.91" y="862.2"/><use href="#m1" x="825.6" y="862.2"/><use href="#m1" x="828.28" y="862.2"/><use href="#m1" x="830.97" y="862.2"/><use href="#m1" x="833.65" y="862.2"/><use href="#m1" x="836.34" y="862.2"/><use href="#m1" x="839.02" y="862.2"/><use href="#m1" x="841.71" y="862.2"/><use href="#m1" x="844.39" y="862.2"/><use href="#m1" x="847.08" y="862.2"/><use href="#m1" x="849.76" y="862.2"/><use href="#m1" x="852.45" y="862.2"/><use href="#m1" x="855.13" y="862.2"/><use href="#m1" x="857.82" y="862.2"/><use href="#m1" x="860.51" y="862.2"/><use href="#m1" x="863.19" y="862.2"/><use href="#m1" x="865.88" y="862.2"/><use href="#m1" x="868.56" y="862.2"/><use href="#m1" x="871.25" y="862.2"/><use href="#m1" x="873.93" y="862.2"/><use href="#m1" x="876.62" y="862.2"/><use href="#m1" x="879.3" y="862.2"/><use href="#m1" x="881.99" y="862.2"/><use href="#m1" x="884.67" y="862.2"/><use href="#m1" x="887.36" y="862.2"/><use href="#m1" x="890.04" y="862.2"/><use href="#m1" x="892.73" y="862.2"/><use href="#m1" x="895.41" y="862.2"/><use href="#m1" x="898.1" y="862.2"/><use href="#m1" x="900.78" y="862.2"/><use href="#m1" x="903.47" y="862.2"/><use href="#m1" x="906.15" y="862.2"/><use href="#m1" x="908.84" y="862.2"/><use href="#m1" x="911.52" y="862.2"/><use href="#m1" x="914.21" y="862.2"/><use href="#m1" x="916.89" y="862.2"/><use href="#m1" x="919.58" y="862.2"/><use href="#m1" x="922.26" y="862.2"/><use href="#m1" x="924.95" y="862.2"/><use href="#m1" x="927.63" y="862.2"/><use href="#m1" x="930.32" y="862.2"/><use href="#m1" x="933" y="862.2"/><use href="#m1" x="935.69" y="862.2"/><use href="#m1" x="938.37" y="862.2"/><use href="#m1" x="941.06" y="862.2"/><use href="#m1" x="943.74" y="862.2"/><use href="#m1" x="946.43" y="862.2"/><use href="#m1" x="949.11" y="862.2"/><use href="#m1" x="951.8" y="862.2"/><use href="#m1" x="954.48" y="862.2"/><use href="#m1" x="957.17" y="862.2"/><use href="#m1" x="959.85" y="862.2"/><use href="#m1" x="962.54" y="862.2"/><use href="#m1" x="965.23" y="862.2"/><use href="#m1" x="967.91" y="862.2"/><use href="#m1" x="970.6" y="862.2"/><use href="#m1" x="973.28" y="862.2"/><use href="#m1" x="975.97" y="862.2"/><use href="#m1" x="978.65" y="862.2"/><use href="#m1" x="981.34" y="862.2"/><use href="#m1" x="984.02" y="862.2"/><use href="#m1" x="986.71" y="862.2"/><use href="#m1" x="989.39" y="862.2"/><use href="#m1" x="992.08" y="862.2"/><use href="#m1" x="994.76" y="862.2"/><use href="#m1" x="997.45" y="862.2"/><use href="#m1" x="1000.13" y="862.2"/><use href="#m1" x="1002.82" y="862.2"/><use href="#m1" x="1005.5" y="862.2"/><use href="#m1" x="1008.19" y="862.2"/><use href="#m1" x="1010.87" y="862.2"/><use href="#m1" x="1013.56" y="862.2"/><use href="#m1" x="1016.24" y="862.2"/><use href="#m1" x="1018.93" y="862.2"/><use href="#m1" x="1021.61" y="862.2"/><use href="#m1" x="1024.3" y="862.2"/><use href="#m1" x="1026.98" y="862.2"/><use href="#m1" x="1029.67" y="862.2"/><use href="#m1" x="1032.35" y="862.2"/><use href="#m1" x="1035.04" y="862.2"/><use href="#m1" x="1037.72" y="862.2"/><use href="#m1" x="1040.41" y="862.2"/><use href="#m1" x="1043.09" y="862.2"/><use href="#m1" x="1045.78" y="862.2"/><use href="#m1" x="1048.46" y="862.2"/><use href="#m1" x="1051.15" y="862.2"/><use href="#m1" x="1053.83" y="862.2"/><use href="#m1" x="1056.52" y="862.2"/><use href="#m1" x="1059.2" y="862.2"/><use href="#m1" x="1061.89" y="862.2"/><use href="#m1" x="1064.57" y="862.2"/><use href="#m1" x="1067.26" y="862.2"/><use href="#m1" x="1069.94" y="862.2"/><use href="#m1" x="1072.63" y="862.2"/><use href="#m1" x="1075.32" y="862.2"/><use href="#m1" x="1078" y="862.2"/><use href="#m1" x="1080.69" y="862.2"/><use href="#m1" x="1083.37" y="862.2"/><use href="#m1" x="1086.06" y="862.2"/><use href="#m1" x="1088.74" y="862.2"/><use href="#m1" x="1091.43" y="862.2"/><use href="#m1" x="1094.11" y="862.2"/><use href="#m1" x="1096.8" y="862.2"/><use href="#m1" x="1099.48" y="862.2"/><use href="#m1" x="1102.17" y="862.2"/><use href="#m1" x="1104.85" y="862.2"/><use href="#m1" x="1107.54" y="862.2"/><use href="#m1" x="1110.22" y="862.2"/><use href="#m1" x="1112.91" y="862.2"/><use href="#m1" x="1115.59" y="862.2"/><use href="#m1" x="1118.28" y="862.2"/><use href="#m1" x="1120.96" y="862.2"/><use href="#m1" x="1123.65" y="862.2"/><use href="#m1" x="1126.33" y="862.2"/><use href="#m1" x="1129.02" y="862.2"/><use href="#m1" x="1131.7" y="862.2"/><use href="#m1" x="1134.39" y="862.2"/><use href="#m1" x="1137.07" y="862.2"/><use href="#m1" x="1139.76" y="862.2"/><use href="#m1" x="1142.44" y="862.2"/><use href="#m1" x="1145.13" y="862.2"/><use href="#m1" x="1147.81" y="862.2"/><use href="#m1" x="1150.5" y="862.2"/><use href="#m1" x="1153.18" y="862.2"/><use href="#m1" x="1155.87" y="862.2"/><use href="#m1" x="1158.55" y="862.2"/><use href="#m1" x="1161.24" y="862.2"/><use href="#m1" x="1163.92" y="862.2"/><use href="#m1" x="1166.61" y="862.2"/><use href="#m1" x="1169.29" y="862.2"/><use href="#m1" x="1171.98" y="862.2"/><use href="#m1" x="1174.66" y="862.2"/><path d="M103.3,862.2 105.99,862.2 108.67,862.2 111.36,862.2 114.04,862.2 116.73,862.2 119.41,862.2 122.1,862.2 124.78,862.2 127.47,862.2 130.15,862.2 132.84,862.2 135.52,862.2 138.21,862.2 140.89,862.2 143.58,862.2 146.26,862.2 148.95,862.2 151.63,862.2 154.32,862.2 157,862.2 159.69,862.19 162.37,862.19 165.06,862.17 167.74,862.13 170.43,862.05 173.11,861.9 175.8,861.6 178.48,861.05 181.17,860.1 183.85,858.49 186.54,855.87 189.22,851.78 191.91,845.6 194.59,836.6 197.28,823.96 199.96,806.82 202.65,784.37 205.33,755.98 208.02,721.35 210.7,680.61 213.39,634.42 216.08,584.06 218.76,531.39 221.45,478.76 224.13,428.85 226.82,384.44 229.5,348.14 232.19,322.13 234.87,307.96 237.56,306.37 240.24,317.27 242.93,339.73 245.61,372.12 248.3,412.31 250.98,457.88 253.67,506.36 256.35,555.41 259.04,603.02 261.72,647.57 264.41,687.94 267.09,723.45 269.78,753.82 272.46,779.13 275.15,799.71 277.83,816.06 280.52,828.74 283.2,838.37 285.89,845.53 288.57,850.74 291.26,854.46 293.94,857.06 296.63,858.85 299.31,860.05 302,860.84 304.68,861.36 307.37,861.68 310.05,861.89 312.74,862.02 315.42,862.09 318.11,862.14 320.8,862.17 323.48,862.18 326.17,862.19 328.85,862.19 331.54,862.2 334.22,862.2 336.91,862.2 339.59,862.2 342.28,862.2 344.96,862.2 347.65,862.2 350.33,862.2 353.02,862.2 355.7,862.2 358.39,862.2 361.07,862.2 363.76,862.2 366.44,862.2 369.13,862.2 371.81,862.2 374.5,862.2 377.18,862.2 379.87,862.2 382.55,862.2 385.24,862.2 387.92,862.2 390.61,862.2 393.29,862.2 395.98,862.2 398.66,862.2 401.35,862.2 404.03,862.2 406.72,862.2 409.4,862.2 412.09,862.2 414.77,862.2 417.46,862.2 420.14,862.2 422.83,862.2 425.51,862.2 428.2,862.2 430.89,862.2 433.57,862.2 436.26,862.2 438.94,862.2 441.63,862.2 444.31,862.2 447,862.2 449.68,862.2 452.37,862.2 455.05,862.2 457.74,862.2 460.42,862.2 463.11,862.2 465.79,862.2 468.48,862.2 471.16,862.2 473.85,862.2 476.53,862.2 479.22,862.2 481.9,862.2 484.59,862.2 487.27,862.2 489.96,862.2 492.64,862.2 495.33,862.2 498.01,862.2 500.7,862.2 503.38,862.2 506.07,862.2 508.75,862.2 511.44,862.2 514.12,862.2 516.81,862.2 519.49,862.2 522.18,862.2 524.86,862.2 527.55,862.2 530.23,862.2 532.92,862.2 535.61,862.2 538.29,862.2 540.98,862.2 543.66,862.2 546.35,862.2 549.03,862.2 551.72,862.2 554.4,862.2 557.09,862.2 559.77,862.2 562.46,862.2 565.14,862.2 567.83,862.2 570.51,862.2 573.2,862.2 575.88,862.2 578.57,862.2 581.25,862.2 583.94,862.2 586.62,862.2 589.31,862.2 591.99,862.2 594.68,862.2 597.36,862.2 600.05,862.2 602.73,862.2 605.42,862.2 608.1,862.2 610.79,862.2 613.47,862.2 616.16,862.2 618.84,862.2 621.53,862.2 624.21,862.2 626.9,862.2 629.58,862.2 632.27,862.2 634.95,862.2 637.64,862.2 640.32,862.2 643.01,862.2 645.7,862.2 648.38,862.2 651.07,862.2 653.75,862.2 656.44,862.2 659.12,862.2 661.81,862.2 664.49,862.2 667.18,862.2 669.86,862.2 672.55,862.2 675.23,862.2 677.92,862.2 680.6,862.2 683.29,862.2 685.97,862.2 688.66,862.2 691.34,862.2 694.03,862.2 696.71,862.2 699.4,862.2 702.08,862.2 704.77,862.2 707.45,862.2 710.14,862.2 712.82,862.2 715.51,862.2 718.19,862.2 720.88,862.2 723.56,862.2 726.25,862.2 728.93,862.2 731.62,862.2 734.3,862.2 736.99,862.2 739.67,862.2 742.36,862.2 745.04,862.2 747.73,862.2 750.42,862.2 753.1,862.2 755.79,862.2 758.47,862.2 761.16,862.2 763.84,862.2 766.53,862.2 769.21,862.2 771.9,862.2 774.58,862.2 777.27,862.2 779.95,862.2 782.64,862.2 785.32,862.2 788.01,862.2 790.69,862.2 793.38,862.2 796.06,862.2 798.75,862.2 801.43,862.2 804.12,862.2 806.8,862.2 809.49,862.2 812.17,862.2 814.86,862.2 817.54,862.2 820.23,862.2 822.91,862.2 825.6,862.2 828.28,862.2 830.97,862.2 833.65,862.2 836.34,862.2 839.02,862.2 841.71,862.2 844.39,862.2 847.08,862.2 849.76,862.2 852.45,862.2 855.13,862.2 857.82,862.2 860.51,862.2 863.19,862.2 865.88,862.2 868.56,862.2 871.25,862.2 873.93,862.2 876.62,862.2 879.3,862.2 881.99,862.2 884.67,862.2 887.36,862.2 890.04,862.2 892.73,862.2 895.41,862.2 898.1,862.2 900.78,862.2 903.47,862.2 906.15,862.2 908.84,862.2 911.52,862.2 914.21,862.2 916.89,862.2 919.58,862.2 922.26,862.2 924.95,862.2 927.63,862.2 930.32,862.2 933,862.2 935.69,862.2 938.37,862.2 941.06,862.2 943.74,862.2 946.43,862.2 949.11,862.2 951.8,862.2 954.48,862.2 957.17,862.2 959.85,862.2 962.54,862.2 965.23,862.2 967.91,862.2 970.6,862.2 973.28,862.2 975.97,862.2 978.65,862.2 981.34,862.2 984.02,862.2 986.71,862.2 989.39,862.2 992.08,862.2 994.76,862.2 997.45,862.2 1000.13,862.2 1002.82,862.2 1005.5,862.2 1008.19,862.2 1010.87,862.2 1013.56,862.2 1016.24,862.2 1018.93,862.2 1021.61,862.2 1024.3,862.2 1026.98,862.2 1029.67,862.2 1032.35,862.2 1035.04,862.2 1037.72,862.2 1040.41,862.2 1043.09,862.2 1045.78,862.2 1048.46,862.2 1051.15,862.2 1053.83,862.2 1056.52,862.2 1059.2,862.2 1061.89,862.2 1064.57,862.2 1067.26,862.2 1069.94,862.2 1072.63,862.2 1075.32,862.2 1078,862.2 1080.69,862.2 1083.37,862.2 1086.06,862.2 1088.74,862.2 1091.43,862.2 1094.11,862.2 1096.8,862.2 1099.48,862.2 1102.17,862.2 1104.85,862.2 1107.54,862.2 1110.22,862.2 1112.91,862.2 1115.59,862.2 1118.28,862.2 1120.96,862.2 1123.65,862.2 1126.33,862.2 1129.02,862.2 1131.7,862.2 1134.39,862.2 1137.07,862.2 1139.76,862.2 1142.44,862.2 1145.13,862.2 1147.81,862.2 1150.5,862.2 1153.18,862.2 1155.87,862.2 1158.55,862.2 1161.24,862.2 1163.92,862.2 1166.61,862.2 1169.29,862.2 1171.98,862.2 1174.66,862.2" fill="none" stroke="#ff0000" stroke-width="1.18"/>
<use href="#m2" x="103.3" y="862.2"/><use href="#m2" x="105.99" y="862.2"/><use href="#m2" x="108.67" y="862.2"/><use href="#m2" x="111.36" y="862.2"/><use href="#m2" x="114.04" y="862.2"/><use href="#m2" x="116.73" y="862.2"/><use href="#m2" x="119.41" y="862.2"/><use href="#m2" x="122.1" y="862.2"/><use href="#m2" x="124.78" y="862.2"/><use href="#m2" x="127.47" y="862.2"/><use href="#m2" x="130.15" y="862.2"/><use href="#m2" x="132.84" y="862.2"/><use href="#m2" x="135.52" y="862.2"/><use href="#m2" x="138.21" y="862.2"/><use href="#m2" x="140.89" y="862.2"/><use href="#m2" x="143.58" y="862.2"/><use href="#m2" x="146.26" y="862.2"/><use href="#m2" x="148.95" y="862.2"/><use href="#m2" x="151.63" y="862.2"/><use href="#m2" x="154.32" y="862.2"/><use href="#m2" x="157" y="862.2"/><use href="#m2" x="159.69" y="862.19"/><use href="#m2" x="162.37" y="862.19"/><use href="#m2" x="165.06" y="862.17"/><use href="#m2" x="167.74" y="862.13"/><use href="#m2" x="170.43" y="862.05"/><use href="#m2" x="173.11" y="861.9"/><use href="#m2" x="175.8" y="861.6"/><use href="#m2" x="178.48" y="861.05"/><use href="#m2" x="181.17" y="860.1"/><use href="#m2" x="183.85" y="858.49"/><use href="#m2" x="186.54" y="855.87"/><use href="#m2" x="189.22" y="851.78"/><use href="#m2" x="191.91" y="845.6"/><use href="#m2" x="194.59" y="836.6"/><use href="#m2" x="197.28" y="823.96"/><use href="#m2" x="199.96" y="806.82"/><use href="#m2" x="202.65" y="784.37"/><use href="#m2" x="205.33" y="755.98"/><use href="#m2" x="208.02" y="721.35"/><use href="#m2" x="210.7" y="680.61"/><use href="#m2" x="213.39" y="634.42"/><use href="#m2" x="216.08" y="584.06"/><use href="#m2" x="218.76" y="531.39"/><use href="#m2" x="221.45" y="478.76"/><use href="#m2" x="224.13" y="428.85"/><use href="#m2" x="226.82" y="384.44"/><use href="#m2" x="229.5" y="348.14"/><use href="#m2" x="232.19" y="322.13"/><use href="#m2" x="234.87" y="307.96"/><use href="#m2" x="237.56" y="306.37"/><use href="#m2" x="240.24" y="317.27"/><use href="#m2" x="242.93" y="339.73"/><use href="#m2" x="245.61" y="372.12"/><use href="#m2" x="248.3" y="412.31"/><use href="#m2" x="250.98" y="457.88"/><use href="#m2" x="253.67" y="506.36"/><use href="#m2" x="256.35" y="555.41"/><use href="#m2" x="259.04" y="603.02"/><use href="#m2" x="261.72" y="647.57"/><use href="#m2" x="264.41" y="687.94"/><use href="#m2" x="267.09" y="723.45"/><use href="#m2" x="269.78" y="753.82"/><use href="#m2" x="272.46" y="779.13"/><use href="#m2" x="275.15" y="799.71"/><use href="#m2" x="277.83" y="816.06"/><use href="#m2" x="280.52" y="828.74"/><use href="#m2" x="283.2" y="838.37"/><use href="#m2" x="285.89" y="845.53"/><use href="#m2" x="288.57" y="850.74"/><use href="#m2" x="291.26" y="854.46"/><use href="#m2" x="293.94" y="857.06"/><use href="#m2" x="296.63" y="858.85"/><use href="#m2" x="299.31" y="860.05"/><use href="#m2" x="302" y="860.84"/><use href="#m2" x="304.68" y="861.36"/><use href="#m2" x="307.37" y="861.68"/><use href="#m2" x="310.05" y="861.89"/><use href="#m2" x="312.74" y="862.02"/><use href="#m2" x="315.42" y="862.09"/><use href="#m2" x="318.11" y="862.14"/><use href="#m2" x="320.8" y="862.17"/><use href="#m2" x="323.48" y="862.18"/><use href="#m2" x="326.17" y="862.19"/><use href="#m2" x="328.85" y="862.19"/><use href="#m2" x="331.54" y="862.2"/><use href="#m2" x="334.22" y="862.2"/><use href="#m2" x="336.91" y="862.2"/><use href="#m2" x="339.59" y="862.2"/><use href="#m2" x="342.28" y="862.2"/><use href="#m2" x="344.96" y="862.2"/><use href="#m2" x="347.65" y="862.2"/><use href="#m2" x="350.33" y="862.2"/><use href="#m2" x="353.02" y="862.2"/><use href="#m2" x="355.7" y="862.2"/><use href="#m2" x="358.39" y="862.2"/><use href="#m2" x="361.07" y="862.2"/><use href="#m2" x="363.76" y="862.2"/><use href="#m2" x="366.44" y="862.2"/><use href="#m2" x="369.13" y="862.2"/><use href="#m2" x="371.81" y="862.2"/><use href="#m2" x="374.5" y="862.2"/><use href="#m2" x="377.18" y="862.2"/><use href="#m2" x="379.87" y="862.2"/><use href="#m2" x="382.55" y="862.2"/><use href="#m2" x="385.24" y="862.2"/><use href="#m2" x="387.92" y="862.2"/><use href="#m2" x="390.61" y="862.2"/><use href="#m2" x="393.29" y="862.2"/><use href="#m2" x="395.98" y="862.2"/><use href="#m2" x="398.66" y="862.2"/><use href="#m2" x="401.35" y="862.2"/><use href="#m2" x="404.03" y="862.2"/><use href="#m2" x="406.72" y="862.2"/><use href="#m2" x="409.4" y="862.2"/><use href="#m2" x="412.09" y="862.2"/><use href="#m2" x="414.77" y="862.2"/><use href="#m2" x="417.46" y="862.2"/><use href="#m2" x="420.14" y="862.2"/><use href="#m2" x="422.83" y="862.2"/><use href="#m2" x="425.51" y="862.2"/><use href="#m2" x="428.2" y="862.2"/><use href="#m2" x="430.89" y="862.2"/><use href="#m2" x="433.57" y="862.2"/><use href="#m2" x="436.26" y="862.2"/><use href="#m2" x="438.94" y="862.2"/><use href="#m2" x="441.63" y="862.2"/><use href="#m2" x="444.31" y="862.2"/><use href="#m2" x="447" y="862.2"/><use href="#m2" x="449.68" y="862.2"/><use href="#m2" x="452.37" y="862.2"/><use href="#m2" x="455.05" y="862.2"/><use href="#m2" x="457.74" y="862.2"/><use href="#m2" x="460.42" y="862.2"/><use href="#m2" x="463.11" y="862.2"/><use href="#m2" x="465.79" y="862.2"/><use href="#m2" x="468.48" y="862.2"/><use href="#m2" x="471.16" y="862.2"/><use href="#m2" x="473.85" y="862.2"/><use href="#m2" x="476.53" y="862.2"/><use href="#m2" x="479.22" y="862.2"/><use href="#m2" x="481.9" y="862.2"/><use href="#m2" x="484.59" y="862.2"/><use href="#m2" x="487.27" y="862.2"/><use href="#m2" x="489.96" y="862.2"/><use href="#m2" x="492.64" y="862.2"/><use href="#m2" x="495.33" y="862.2"/><use href="#m2" x="498.01" y="862.2"/><use href="#m2" x="500.7" y="862.2"/><use href="#m2" x="503.38" y="862.2"/><use href="#m2" x="506.07" y="862.2"/><use href="#m2" x="508.75" y="862.2"/><use href="#m2" x="511.44" y="862.2"/><use href="#m2" x="514.12" y="862.2"/><use href="#m2" x="516.81" y="862.2"/><use href="#m2" x="519.49" y="862.2"/><use href="#m2" x="522.18" y="862.2"/><use href="#m2" x="524.86" y="862.2"/><use href="#m2" x="527.55" y="862.2"/><use href="#m2" x="530.23" y="862.2"/><use href="#m2" x="532.92" y="862.2"/><use href="#m2" x="535.61" y="862.2"/><use href="#m2" x="538.29" y="862.2"/><use href="#m2" x="540.98" y="862.2"/><use href="#m2" x="543.66" y="862.2"/><use href="#m2" x="546.35" y="862.2"/><use href="#m2" x="549.03" y="862.2"/><use href="#m2" x="551.72" y="862.2"/><use href="#m2" x="554.4" y="862.2"/><use href="#m2" x="557.09" y="862.2"/><use href="#m2" x="559.77" y="862.2"/><use href="#m2" x="562.46" y="862.2"/><use href="#m2" x="565.14" y="862.2"/><use href="#m2" x="567.83" y="862.2"/><use href="#m2" x="570.51" y="862.2"/><use href="#m2" x="573.2" y="862.2"/><use href="#m2" x="575.88" y="862.2"/><use href="#m2" x="578.57" y="862.2"/><use href="#m2" x="581.25" y="862.2"/><use href="#m2" x="583.94" y="862.2"/><use href="#m2" x="586.62" y="862.2"/><use href="#m2" x="589.31" y="862.2"/><use href="#m2" x="591.99" y="862.2"/><use href="#m2" x="594.68" y="862.2"/><use href="#m2" x="597.36" y="862.2"/><use href="#m2" x="600.05" y="862.2"/><use href="#m2" x="602.73" y="862.2"/><use href="#m2" x="605.42" y="862.2"/><use href="#m2" x="608.1" y="862.2"/><use href="#m2" x="610.79" y="862.2"/><use href="#m2" x="613.47" y="862.2"/><use href="#m2" x="616.16" y="862.2"/><use href="#m2" x="618.84" y="862.2"/><use href="#m2" x="621.53" y="862.2"/><use href="#m2" x="624.21" y="862.2"/><use href="#m2" x="626.9" y="862.2"/><use href="#m2" x="629.58" y="862.2"/><use href="#m2" x="632.27" y="862.2"/><use href="#m2" x="634.95" y="862.2"/><use href="#m2" x="637.64" y="862.2"/><use href="#m2" x="640.32" y="862.2"/><use href="#m2" x="643.01" y="862.2"/><use href="#m2" x="645.7" y="862.2"/><use href="#m2" x="648.38" y="862.2"/><use href="#m2" x="651.07" y="862.2"/><use href="#m2" x="653.75" y="862.2"/><use href="#m2" x="656.44" y="862.2"/><use href="#m2" x="659.12" y="862.2"/><use href="#m2" x="661.81" y="862.2"/><use href="#m2" x="664.49" y="862.2"/><use href="#m2" x="667.18" y="862.2"/><use href="#m2" x="669.86" y="862.2"/><use href="#m2" x="672.55" y="862.2"/><use href="#m2" x="675.23" y="862.2"/><use href="#m2" x="677.92" y="862.2"/><use href="#m2" x="680.6" y="862.2"/><use href="#m2" x="683.29" y="862.2"/><use href="#m2" x="685.97" y="862.2"/><use href="#m2" x="688.66" y="862.2"/><use href="#m2" x="691.34" y="862.2"/><use href="#m2" x="694.03" y="862.2"/><use href="#m2" x="696.71" y="862.2"/><use href="#m2" x="699.4" y="862.2"/><use href="#m2" x="702.08" y="862.2"/><use href="#m2" x="704.77" y="862.2"/><use href="#m2" x="707.45" y="862.2"/><use href="#m2" x="710.14" y="862.2"/><use href="#m2" x="712.82" y="862.2"/><use href="#m2" x="715.51" y="862.2"/><use href="#m2" x="718.19" y="862.2"/><use href="#m2" x="720.88" y="862.2"/><use href="#m2" x="723.56" y="862.2"/><use href="#m2" x="726.25" y="862.2"/><use href="#m2" x="728.93" y="862.2"/><use href="#m2" x="731.62" y="862.2"/><use href="#m2" x="734.3" y="862.2"/><use href="#m2" x="736.99" y="862.2"/><use href="#m2" x="739.67" y="862.2"/><use href="#m2" x="742.36" y="862.2"/><use href="#m2" x="745.04" y="862.2"/><use href="#m2" x="747.73" y="862.2"/><use href="#m2" x="750.42" y="862.2"/><use href="#m2" x="753.1" y="862.2"/><use href="#m2" x="755.79" y="862.2"/><use href="#m2" x="758.47" y="862.2"/><use href="#m2" x="761.16" y="862.2"/><use href="#m2" x="763.84" y="862.2"/><use href="#m2" x="766.53" y="862.2"/><use href="#m2" x="769.21" y="862.2"/><use href="#m2" x="771.9" y="862.2"/><use href="#m2" x="774.58" y="862.2"/><use href="#m2" x="777.27" y="862.2"/><use href="#m2" x="779.95" y="862.2"/><use href="#m2" x="782.64" y="862.2"/><use href="#m2" x="785.32" y="862.2"/><use href="#m2" x="788.01" y="862.2"/><use href="#m2" x="790.69" y="862.2"/><use href="#m2" x="793.38" y="862.2"/><use href="#m2" x="796.06" y="862.2"/><use href="#m2" x="798.75" y="862.2"/><use href="#m2" x="801.43" y="862.2"/><use href="#m2" x="804.12" y="862.2"/><use href="#m2" x="806.8" y="862.2"/><use href="#m2" x="809.49" y="862.2"/><use href="#m2" x="812.17" y="862.2"/><use href="#m2" x="814.86" y="862.2"/><use href="#m2" x="817.54" y="862.2"/><use href="#m2" x="820.23" y="862.2"/><use href="#m2" x="822.91" y="862.2"/><use href="#m2" x="825.6" y="862.2"/><use href="#m2" x="828.28" y="862.2"/><use href="#m2" x="830.97" y="862.2"/><use href="#m2" x="833.65" y="862.2"/><use href="#m2" x="836.34" y="862.2"/><use href="#m2" x="839.02" y="862.2"/><use href="#m2" x="841.71" y="862.2"/><use href="#m2" x="844.39" y="862.2"/><use href="#m2" x="847.08" y="862.2"/><use href="#m2" x="849.76" y="862.2"/><use href="#m2" x="852.45" y="862.2"/><use href="#m2" x="855.13" y="862.2"/><use href="#m2" x="857.82" y="862.2"/><use href="#m2" x="860.51" y="862.2"/><use href="#m2" x="863.19" y="862.2"/><use href="#m2" x="865.88" y="862.2"/><use href="#m2" x="868.56" y="862.2"/><use href="#m2" x="871.25" y="862.2"/><use href="#m2" x="873.93" y="862.2"/><use href="#m2" x="876.62" y="862.2"/><use href="#m2" x="879.3" y="862.2"/><use href="#m2" x="881.99" y="862.2"/><use href="#m2" x="884.67" y="862.2"/><use href="#m2" x="887.36" y="862.2"/><use href="#m2" x="890.04" y="862.2"/><use href="#m2" x="892.73" y="862.2"/><use href="#m2" x="895.41" y="862.2"/><use href="#m2" x="898.1" y="862.2"/><use href="#m2" x="900.78" y="862.2"/><use href="#m2" x="903.47" y="862.2"/><use href="#m2" x="906.15" y="862.2"/><use href="#m2" x="908.84" y="862.2"/><use href="#m2" x="911.52" y="862.2"/><use href="#m2" x="914.21" y="862.2"/><use href="#m2" x="916.89" y="862.2"/><use href="#m2" x="919.58" y="862.2"/><use href="#m2" x="922.26" y="862.2"/><use href="#m2" x="924.95" y="862.2"/><use href="#m2" x="927.63" y="862.2"/><use href="#m2" x="930.32" y="862.2"/><use href="#m2" x="933" y="862.2"/><use href="#m2" x="935.69" y="862.2"/><use href="#m2" x="938.37" y="862.2"/><use href="#m2" x="941.06" y="862.2"/><use href="#m2" x="943.74" y="862.2"/><use href="#m2" x="946.43" y="862.2"/><use href="#m2" x="949.11" y="862.2"/><use href="#m2" x="951.8" y="862.2"/><use href="#m2" x="954.48" y="862.2"/><use href="#m2" x="957.17" y="862.2"/><use href="#m2" x="959.85" y="862.2"/><use href="#m2" x="962.54" y="862.2"/><use href="#m2" x="965.23" y="862.2"/><use href="#m2" x="967.91" y="862.2"/><use href="#m2" x="970.6" y="862.2"/><use href="#m2" x="973.28" y="862.2"/><use href="#m2" x="975.97" y="862.2"/><use href="#m2" x="978.65" y="862.2"/><use href="#m2" x="981.34" y="862.2"/><use href="#m2" x="984.02" y="862.2"/><use href="#m2" x="986.71" y="862.2"/><use href="#m2" x="989.39" y="862.2"/><use href="#m2" x="992.08" y="862.2"/><use href="#m2" x="994.76" y="862.2"/><use href="#m2" x="997.45" y="862.2"/><use href="#m2" x="1000.13" y="862.2"/><use href="#m2" x="1002.82" y="862.2"/><use href="#m2" x="1005.5" y="862.2"/><use href="#m2" x="1008.19" y="862.2"/><use href="#m2" x="1010.87" y="862.2"/><use href="#m2" x="1013.56" y="862.2"/><use href="#m2" x="1016.24" y="862.2"/><use href="#m2" x="1018.93" y="862.2"/><use href="#m2" x="1021.61" y="862.2"/><use href="#m2" x="1024.3" y="862.2"/><use href="#m2" x="1026.98" y="862.2"/><use href="#m2" x="1029.67" y="862.2"/><use href="#m2" x="1032.35" y="862.2"/><use href="#m2" x="1035.04" y="862.2"/><use href="#m2" x="1037.72" y="862.2"/><use href="#m2" x="1040.41" y="862.2"/><use href="#m2" x="1043.09" y="862.2"/><use href="#m2" x="1045.78" y="862.2"/><use href="#m2" x="1048.46" y="862.2"/><use href="#m2" x="1051.15" y="862.2"/><use href="#m2" x="1053.83" y="862.2"/><use href="#m2" x="1056.52" y="862.2"/><use href="#m2" x="1059.2" y="862.2"/><use href="#m2" x="1061.89" y="862.2"/><use href="#m2" x="1064.57" y="862.2"/><use href="#m2" x="1067.26" y="862.2"/><use href="#m2" x="1069.94" y="862.2"/><use href="#m2" x="1072.63" y="862.2"/><use href="#m2" x="1075.32" y="862.2"/><use href="#m2" x="1078" y="862.2"/><use href="#m2" x="1080.69" y="862.2"/><use href="#m2" x="1083.37" y="862.2"/><use href="#m2" x="1086.06" y="862.2"/><use href="#m2" x="1088.74" y="862.2"/><use href="#m2" x="1091.43" y="862.2"/><use href="#m2" x="1094.11" y="862.2"/><use href="#m2" x="1096.8" y="862.2"/><use href="#m2" x="1099.48" y="862.2"/><use href="#m2" x="1102.17" y="862.2"/><use href="#m2" x="1104.85" y="862.2"/><use href="#m2" x="1107.54" y="862.2"/><use href="#m2" x="1110.22" y="862.2"/><use href="#m2" x="1112.91" y="862.2"/><use href="#m2" x="1115.59" y="862.2"/><use href="#m2" x="1118.28" y="862.2"/><use href="#m2" x="1120.96" y="862.2"/><use href="#m2" x="1123.65" y="862.2"/><use href="#m2" x="1126.33" y="862.2"/><use href="#m2" x="1129.02" y="862.2"/><use href="#m2" x="1131.7" y="862.2"/><use href="#m2" x="1134.39" y="862.2"/><use href="#m2" x="1137.07" y="862.2"/><use href="#m2" x="1139.76" y="862.2"/><use href="#m2" x="1142.44" y="862.2"/><use href="#m2" x="1145.13" y="862.2"/><use href="#m2" x="1147.81" y="862.2"/><use href="#m2" x="1150.5" y="862.2"/><use href="#m2" x="1153.18" y="862.2"/><use href="#m2" x="1155.87" y="862.2"/><use href="#m2" x="1158.55" y="862.2"/><use href="#m2" x="1161.24" y="862.2"/><use href="#m2" x="1163.92" y="862.2"/><use href="#m2" x="1166.61" y="862.2"/><use href="#m2" x="1169.29" y="862.2"/><use href="#m2" x="1171.98" y="862.2"/><use href="#m2" x="1174.66" y="862.2"/><path d="M103.3,862.2 105.99,862.2 108.67,862.2 111.36,862.2 114.04,862.2 116.73,862.19 119.41,862.17 122.1,862.1 124.78,861.86 127.47,861.23 130.15,859.66 132.84,856.2 135.52,849.24 138.21,836.41 140.89,814.67 143.58,780.66 146.26,731.39 148.95,665.22 151.63,582.77 154.32,487.67 157,386.55 159.69,288.4 162.37,203.2 165.06,140.16 167.74,106.07 170.43,104.05 173.11,133.21 175.8,189.01 178.48,264.34 181.17,350.93 183.85,440.69 186.54,526.8 189.22,604.36 191.91,670.51 194.59,724.26 197.28,766.04 199.96,797.2 202.65,819.57 205.33,835.05 208.02,845.4 210.7,852.09 213.39,856.28 216.08,858.83 218.76,860.33 221.45,861.19 224.13,861.67 226.82,861.93 229.5,862.06 232.19,862.13 234.87,862.17 237.56,862.18 240.24,862.19 242.93,862.2 245.61,862.2 248.3,862.2 250.98,862.2 253.67,862.2 256.35,862.2 259.04,862.2 261.72,862.2 264.41,862.2 267.09,862.2 269.78,862.2 272.46,862.2 275.15,862.2 277.83,862.2 280.52,862.2 283.2,862.2 285.89,862.2 288.57,862.2 291.26,862.2 293.94,862.2 296.63,862.2 299.31,862.2 302,862.2 304.68,862.2 307.37,862.2 310.05,862.2 312.74,862.2 315.42,862.2 318.11,862.2 320.8,862.2 323.48,862.2 326.17,862.2 328.85,862.2 331.54,862.2 334.22,862.2 336.91,862.2 339.59,862.2 342.28,862.2 344.96,862.2 347.65,862.2 350.33,862.2 353.02,862.2 355.7,862.2 358.39,862.2 361.07,862.2 363.76,862.2 366.44,862.2 369.13,862.2 371.81,862.2 374.5,862.2 377.18,862.2 379.87,862.2 382.55,862.2 385.24,862.2 387.92,862.2 390.61,862.2 393.29,862.2 395.98,862.2 398.66,862.2 401.35,862.2 404.03,862.2 406.72,862.2 409.4,862.2 412.09,862.2 414.77,862.2 417.46,862.2 420.14,862.2 422.83,862.2 425.51,862.2 428.2,862.2 430.89,862.2 433.57,862.2 436.26,862.2 438.94,862.2 441.63,862.2 444.31,862.2 447,862.2 449.68,862.2 452.37,862.2 455.05,862.2 457.74,862.2 460.42,862.2 463.11,862.2 465.79,862.2 468.48,862.2 471.16,862.2 473.85,862.2 476.53,862.2 479.22,862.2 481.9,862.2 484.59,862.2 487.27,862.2 489.96,862.2 492.64,862.2 495.33,862.2 498.01,862.2 500.7,862.2 503.38,862.2 506.07,862.2 508.75,862.2 511.44,862.2 514.12,862.2 516.81,862.2 519.49,862.2 522.18,862.2 524.86,862.2 527.55,862.2 530.23,862.2 532.92,862.2 535.61,862.2 538.29,862.2 540.98,862.2 543.66,862.2 546.35,862.2 549.03,862.2 551.72,862.2 554.4,862.2 557.09,862.2 559.77,862.2 562.46,862.2 565.14,862.2 567.83,862.2 570.51,862.2 573.2,862.2 575.88,862.2 578.57,862.2 581.25,862.2 583.94,862.2 586.62,862.2 589.31,862.2 591.99,862.2 594.68,862.2 597.36,862.2 600.05,862.2 602.73,862.2 605.42,862.2 608.1,862.2 610.79,862.2 613.47,862.2 616.16,862.2 618.84,862.2 621.53,862.2 624.21,862.2 626.9,862.2 629.58,862.2 632.27,862.2 634.95,862.2 637.64,862.2 640.32,862.2 643.01,862.2 645.7,862.2 648.38,862.2 651.07,862.2 653.75,862.2 656.44,862.2 659.12,862.2 661.81,862.2 664.49,862.2 667.18,862.2 669.86,862.2 672.55,862.2 675.23,862.2 677.92,862.2 680.6,862.2 683.29,862.2 685.97,862.2 688.66,862.2 691.34,862.2 694.03,862.2 696.71,862.2 699.4,862.2 702.08,862.2 704.77,862.2 707.45,862.2 710.14,862.2 712.82,862.2 715.51,862.2 718.19,862.2 720.88,862.2 723.56,862.2 726.25,862.2 728.93,862.2 731.62,862.2 734.3,862.2 736.99,862.2 739.67,862.2 742.36,862.2 745.04,862.2 747.73,862.2 750.42,862.2 753.1,862.2 755.79,862.2 758.47,862.2 761.16,862.2 763.84,862.2 766.53,862.2 769.21,862.2 771.9,862.2 774.58,862.2 777.27,862.2 779.95,862.2 782.64,862.2 785.32,862.2 788.01,862.2 790.69,862.2 793.38,862.2 796.06,862.2 798.75,862.2 801.43,862.2 804.12,862.2 806.8,862.2 809.49,862.2 812.17,862.2 814.86,862.2 817.54,862.2 820.23,862.2 822.91,862.2 825.6,862.2 828.28,862.2 830.97,862.2 833.65,862.2 836.34,862.2 839.02,862.2 841.71,862.2 844.39,862.2 847.08,862.2 849.76,862.2 852.45,862.2 855.13,862.2 857.82,862.2 860.51,862.2 863.19,862.2 865.88,862.2 868.56,862.2 871.25,862.2 873.93,862.2 876.62,862.2 879.3,862.2 881.99,862.2 884.67,862.2 887.36,862.2 890.04,862.2 892.73,862.2 895.41,862.2 898.1,862.2 900.78,862.2 903.47,862.2 906.15,862.2 908.84,862.2 911.52,862.2 914.21,862.2 916.89,862.2 919.58,862.2 922.26,862.2 924.95,862.2 927.63,862.2 930.32,862.2 933,862.2 935.69,862.2 938.37,862.2 941.06,862.2 943.74,862.2 946.43,862.2 949.11,862.2 951.8,862.2 954.48,862.2 957.17,862.2 959.85,862.2 962.54,862.2 965.23,862.2 967.91,862.2 970.6,862.2 973.28,862.2 975.97,862.2 978.65,862.2 981.34,862.2 984.02,862.2 986.71,862.2 989.39,862.2 992.08,862.2 994.76,862.2 997.45,862.2 1000.13,862.2 1002.82,862.2 1005.5,862.2 1008.19,862.2 1010.87,862.2 1013.56,862.2 1016.24,862.2 1018.93,862.2 1021.61,862.2 1024.3,862.2 1026.98,862.2 1029.67,862.2 1032.35,862.2 1035.04,862.2 1037.72,862.2 1040.41,862.2 1043.09,862.2 1045.78,862.2 1048.46,862.2 1051.15,862.2 1053.83,862.2 1056.52,862.2 1059.2,862.2 1061.89,862.2 1064.57,862.2 1067.26,862.2 1069.94,862.2 1072.63,862.2 1075.32,862.2 1078,862.2 1080.69,862.2 1083.37,862.2 1086.06,862.2 1088.74,862.2 1091.43,862.2 1094.11,862.2 1096.8,862.2 1099.48,862.2 1102.17,862.2 1104.85,862.2 1107.54,862.2 1110.22,862.2 1112.91,862.2 1115.59,862.2 1118.28,862.2 1120.96,862.2 1123.65,862.2 1126.33,862.2 1129.02,862.2 1131.7,862.2 1134.39,862.2 1137.07,862.2 1139.76,862.2 1142.44,862.2 1145.13,862.2 1147.81,862.2 1150.5,862.2 1153.18,862.2 1155.87,862.2 1158.55,862.2 1161.24,862.2 1163.92,862.2 1166.61,862.2 1169.29,862.2 1171.98,862.2 1174.66,862.2" fill="none" stroke="#00bfbf" stroke-width="1.18"/>
<use href="#m3" x="103.3" y="862.2"/><use href="#m3" x="105.99" y="862.2"/><use href="#m3" x="108.67" y="862.2"/><use href="#m3" x="111.36" y="862.2"/><use href="#m3" x="114.04" y="862.2"/><use href="#m3" x="116.73" y="862.19"/><use href="#m3" x="119.41" y="862.17"/><use href="#m3" x="122.1" y="862.1"/><use href="#m3" x="124.78" y="861.86"/><use href="#m3" x="127.47" y="861.23"/><use href="#m3" x="130.15" y="859.66"/><use href="#m3" x="132.84" y="856.2"/><use href="#m3" x="135.52" y="849.24"/><use href="#m3" x="138.21" y="836.41"/><use href="#m3" x="140.89" y="814.67"/><use href="#m3" x="143.58" y="780.66"/><use href="#m3" x="146.26" y="731.39"/><use href="#m3" x="148.95" y="665.22"/><use href="#m3" x="151.63" y="582.77"/><use href="#m3" x="154.32" y="487.67"/><use href="#m3" x="157" y="386.55"/><use href="#m3" x="159.69" y="288.4"/><use href="#m3" x="162.37" y="203.2"/><use href="#m3" x="165.06" y="140.16"/><use href="#m3" x="167.74" y="106.07"/><use href="#m3" x="170.43" y="104.05"/><use href="#m3" x="173.11" y="133.21"/><use href="#m3" x="175.8" y="189.01"/><use href="#m3" x="178.48" y="264.34"/><use href="#m3" x="181.17" y="350.93"/><use href="#m3" x="183.85" y="440.69"/><use href="#m3" x="186.54" y="526.8"/><use href="#m3" x="189.22" y="604.36"/><use href="#m3" x="191.91" y="670.51"/><use href="#m3" x="194.59" y="724.26"/><use href="#m3" x="197.28" y="766.04"/><use href="#m3" x="199.96" y="797.2"/><use href="#m3" x="202.65" y="819.57"/><use href="#m3" x="205.33" y="835.05"/><use href="#m3" x="208.02" y="845.4"/><use href="#m3" x="210.7" y="852.09"/><use href="#m3" x="213.39" y="856.28"/><use href="#m3" x="216.08" y="858.83"/><use href="#m3" x="218.76" y="860.33"/><use href="#m3" x="221.45" y="861.19"/><use href="#m3" x="224.13" y="861.67"/><use href="#m3" x="226.82" y="861.93"/><use href="#m3" x="229.5" y="862.06"/><use href="#m3" x="232.19" y="862.13"/><use href="#m3" x="234.87" y="862.17"/><use href="#m3" x="237.56" y="862.18"/><use href="#m3" x="240.24" y="862.19"/><use href="#m3" x="242.93" y="862.2"/><use href="#m3" x="245.61" y="862.2"/><use href="#m3" x="248.3" y="862.2"/><use href="#m3" x="250.98" y="862.2"/><use href="#m3" x="253.67" y="862.2"/><use href="#m3" x="256.35" y="862.2"/><use href="#m3" x="259.04" y="862.2"/><use href="#m3" x="261.72" y="862.2"/><use href="#m3" x="264.41" y="862.2"/><use href="#m3" x="267.09" y="862.2"/><use href="#m3" x="269.78" y="862.2"/><use href="#m3" x="272.46" y="862.2"/><use href="#m3" x="275.15" y="862.2"/><use href="#m3" x="277.83" y="862.2"/><use href="#m3" x="280.52" y="862.2"/><use href="#m3" x="283.2" y="862.2"/><use href="#m3" x="285.89" y="862.2"/><use href="#m3" x="288.57" y="862.2"/><use href="#m3" x="291.26" y="862.2"/><use href="#m3" x="293.94" y="862.2"/><use href="#m3" x="296.63" y="862.2"/><use href="#m3" x="299.31" y="862.2"/><use href="#m3" x="302" y="862.2"/><use href="#m3" x="304.68" y="862.2"/><use href="#m3" x="307.37" y="862.2"/><use href="#m3" x="310.05" y="862.2"/><use href="#m3" x="312.74" y="862.2"/><use href="#m3" x="315.42" y="862.2"/><use href="#m3" x="318.11" y="862.2"/><use href="#m3" x="320.8" y="862.2"/><use href="#m3" x="323.48" y="862.2"/><use href="#m3" x="326.17" y="862.2"/><use href="#m3" x="328.85" y="862.2"/><use href="#m3" x="331.54" y="862.2"/><use href="#m3" x="334.22" y="862.2"/><use href="#m3" x="336.91" y="862.2"/><use href="#m3" x="339.59" y="862.2"/><use href="#m3" x="342.28" y="862.2"/><use href="#m3" x="344.96" y="862.2"/><use href="#m3" x="347.65" y="862.2"/><use href="#m3" x="350.33" y="862.2"/><use href="#m3" x="353.02" y="862.2"/><use href="#m3" x="355.7" y="862.2"/><use href="#m3" x="358.39" y="862.2"/><use href="#m3" x="361.07" y="862.2"/><use href="#m3" x="363.76" y="862.2"/><use href="#m3" x="366.44" y="862.2"/><use href="#m3" x="369.13" y="862.2"/><use href="#m3" x="371.81" y="862.2"/><use href="#m3" x="374.5" y="862.2"/><use href="#m3" x="377.18" y="862.2"/><use href="#m3" x="379.87" y="862.2"/><use href="#m3" x="382.55" y="862.2"/><use href="#m3" x="385.24" y="862.2"/><use href="#m3" x="387.92" y="862.2"/><use href="#m3" x="390.61" y="862.2"/><use href="#m3" x="393.29" y="862.2"/><use href="#m3" x="395.98" y="862.2"/><use href="#m3" x="398.66" y="862.2"/><use href="#m3" x="401.35" y="862.2"/><use href="#m3" x="404.03" y="862.2"/><use href="#m3" x="406.72" y="862.2"/><use href="#m3" x="409.4" y="862.2"/><use href="#m3" x="412.09" y="862.2"/><use href="#m3" x="414.77" y="862.2"/><use href="#m3" x="417.46" y="862.2"/><use href="#m3" x="420.14" y="862.2"/><use href="#m3" x="422.83" y="862.2"/><use href="#m3" x="425.51" y="862.2"/><use href="#m3" x="428.2" y="862.2"/><use href="#m3" x="430.89" y="862.2"/><use href="#m3" x="433.57" y="862.2"/><use href="#m3" x="436.26" y="862.2"/><use href="#m3" x="438.94" y="862.2"/><use href="#m3" x="441.63" y="862.2"/><use href="#m3" x="444.31" y="862.2"/><use href="#m3" x="447" y="862.2"/><use href="#m3" x="449.68" y="862.2"/><use href="#m3" x="452.37" y="862.2"/><use href="#m3" x="455.05" y="862.2"/><use href="#m3" x="457.74" y="862.2"/><use href="#m3" x="460.42" y="862.2"/><use href="#m3" x="463.11" y="862.2"/><use href="#m3" x="465.79" y="862.2"/><use href="#m3" x="468.48" y="862.2"/><use href="#m3" x="471.16" y="862.2"/><use href="#m3" x="473.85" y="862.2"/><use href="#m3" x="476.53" y="862.2"/><use href="#m3" x="479.22" y="862.2"/><use href="#m3" x="481.9" y="862.2"/><use href="#m3" x="484.59" y="862.2"/><use href="#m3" x="487.27" y="862.2"/><use href="#m3" x="489.96" y="862.2"/><use href="#m3" x="492.64" y="862.2"/><use href="#m3" x="495.33" y="862.2"/><use href="#m3" x="498.01" y="862.2"/><use href="#m3" x="500.7" y="862.2"/><use href="#m3" x="503.38" y="862.2"/><use href="#m3" x="506.07" y="862.2"/><use href="#m3" x="508.75" y="862.2"/><use href="#m3" x="511.44" y="862.2"/><use href="#m3" x="514.12" y="862.2"/><use href="#m3" x="516.81" y="862.2"/><use href="#m3" x="519.49" y="862.2"/><use href="#m3" x="522.18" y="862.2"/><use href="#m3" x="524.86" y="862.2"/><use href="#m3" x="527.55" y="862.2"/><use href="#m3" x="530.23" y="862.2"/><use href="#m3" x="532.92" y="862.2"/><use href="#m3" x="535.61" y="862.2"/><use href="#m3" x="538.29" y="862.2"/><use href="#m3" x="540.98" y="862.2"/><use href="#m3" x="543.66" y="862.2"/><use href="#m3" x="546.35" y="862.2"/><use href="#m3" x="549.03" y="862.2"/><use href="#m3" x="551.72" y="862.2"/><use href="#m3" x="554.4" y="862.2"/><use href="#m3" x="557.09" y="862.2"/><use href="#m3" x="559.77" y="862.2"/><use href="#m3" x="562.46" y="862.2"/><use href="#m3" x="565.14" y="862.2"/><use href="#m3" x="567.83" y="862.2"/><use href="#m3" x="570.51" y="862.2"/><use href="#m3" x="573.2" y="862.2"/><use href="#m3" x="575.88" y="862.2"/><use href="#m3" x="578.57" y="862.2"/><use href="#m3" x="581.25" y="862.2"/><use href="#m3" x="583.94" y="862.2"/><use href="#m3" x="586.62" y="862.2"/><use href="#m3" x="589.31" y="862.2"/><use href="#m3" x="591.99" y="862.2"/><use href="#m3" x="594.68" y="862.2"/><use href="#m3" x="597.36" y="862.2"/><use href="#m3" x="600.05" y="862.2"/><use href="#m3" x="602.73" y="862.2"/><use href="#m3" x="605.42" y="862.2"/><use href="#m3" x="608.1" y="862.2"/><use href="#m3" x="610.79" y="862.2"/><use href="#m3" x="613.47" y="862.2"/><use href="#m3" x="616.16" y="862.2"/><use href="#m3" x="618.84" y="862.2"/><use href="#m3" x="621.53" y="862.2"/><use href="#m3" x="624.21" y="862.2"/><use href="#m3" x="626.9" y="862.2"/><use href="#m3" x="629.58" y="862.2"/><use href="#m3" x="632.27" y="862.2"/><use href="#m3" x="634.95" y="862.2"/><use href="#m3" x="637.64" y="862.2"/><use href="#m3" x="640.32" y="862.2"/><use href="#m3" x="643.01" y="862.2"/><use href="#m3" x="645.7" y="862.2"/><use href="#m3" x="648.38" y="862.2"/><use href="#m3" x="651.07" y="862.2"/><use href="#m3" x="653.75" y="862.2"/><use href="#m3" x="656.44" y="862.2"/><use href="#m3" x="659.12" y="862.2"/><use href="#m3" x="661.81" y="862.2"/><use href="#m3" x="664.49" y="862.2"/><use href="#m3" x="667.18" y="862.2"/><use href="#m3" x="669.86" y="862.2"/><use href="#m3" x="672.55" y="862.2"/><use href="#m3" x="675.23" y="862.2"/><use href="#m3" x="677.92" y="862.2"/><use href="#m3" x="680.6" y="862.2"/><use href="#m3" x="683.29" y="862.2"/><use href="#m3" x="685.97" y="862.2"/><use href="#m3" x="688.66" y="862.2"/><use href="#m3" x="691.34" y="862.2"/><use href="#m3" x="694.03" y="862.2"/><use href="#m3" x="696.71" y="862.2"/><use href="#m3" x="699.4" y="862.2"/><use href="#m3" x="702.08" y="862.2"/><use href="#m3" x="704.77" y="862.2"/><use href="#m3" x="707.45" y="862.2"/><use href="#m3" x="710.14" y="862.2"/><use href="#m3" x="712.82" y="862.2"/><use href="#m3" x="715.51" y="862.2"/><use href="#m3" x="718.19" y="862.2"/><use href="#m3" x="720.88" y="862.2"/><use href="#m3" x="723.56" y="862.2"/><use href="#m3" x="726.25" y="862.2"/><use href="#m3" x="728.93" y="862.2"/><use href="#m3" x="731.62" y="862.2"/><use href="#m3" x="734.3" y="862.2"/><use href="#m3" x="736.99" y="862.2"/><use href="#m3" x="739.67" y="862.2"/><use href="#m3" x="742.36" y="862.2"/><use href="#m3" x="745.04" y="862.2"/><use href="#m3" x="747.73" y="862.2"/><use href="#m3" x="750.42" y="862.2"/><use href="#m3" x="753.1" y="862.2"/><use href="#m3" x="755.79" y="862.2"/><use href="#m3" x="758.47" y="862.2"/><use href="#m3" x="761.16" y="862.2"/><use href="#m3" x="763.84" y="862.2"/><use href="#m3" x="766.53" y="862.2"/><use href="#m3" x="769.21" y="862.2"/><use href="#m3" x="771.9" y="862.2"/><use href="#m3" x="774.58" y="862.2"/><use href="#m3" x="777.27" y="862.2"/><use href="#m3" x="779.95" y="862.2"/><use href="#m3" x="782.64" y="862.2"/><use href="#m3" x="785.32" y="862.2"/><use href="#m3" x="788.01" y="862.2"/><use href="#m3" x="790.69" y="862.2"/><use href="#m3" x="793.38" y="862.2"/><use href="#m3" x="796.06" y="862.2"/><use href="#m3" x="798.75" y="862.2"/><use href="#m3" x="801.43" y="862.2"/><use href="#m3" x="804.12" y="862.2"/><use href="#m3" x="806.8" y="862.2"/><use href="#m3" x="809.49" y="862.2"/><use href="#m3" x="812.17" y="862.2"/><use href="#m3" x="814.86" y="862.2"/><use href="#m3" x="817.54" y="862.2"/><use href="#m3" x="820.23" y="862.2"/><use href="#m3" x="822.91" y="862.2"/><use href="#m3" x="825.6" y="862.2"/><use href="#m3" x="828.28" y="862.2"/><use href="#m3" x="830.97" y="862.2"/><use href="#m3" x="833.65" y="862.2"/><use href="#m3" x="836.34" y="862.2"/><use href="#m3" x="839.02" y="862.2"/><use href="#m3" x="841.71" y="862.2"/><use href="#m3" x="844.39" y="862.2"/><use href="#m3" x="847.08" y="862.2"/><use href="#m3" x="849.76" y="862.2"/><use href="#m3" x="852.45" y="862.2"/><use href="#m3" x="855.13" y="862.2"/><use href="#m3" x="857.82" y="862.2"/><use href="#m3" x="860.51" y="862.2"/><use href="#m3" x="863.19" y="862.2"/><use href="#m3" x="865.88" y="862.2"/><use href="#m3" x="868.56" y="862.2"/><use href="#m3" x="871.25" y="862.2"/><use href="#m3" x="873.93" y="862.2"/><use href="#m3" x="876.62" y="862.2"/><use href="#m3" x="879.3" y="862.2"/><use href="#m3" x="881.99" y="862.2"/><use href="#m3" x="884.67" y="862.2"/><use href="#m3" x="887.36" y="862.2"/><use href="#m3" x="890.04" y="862.2"/><use href="#m3" x="892.73" y="862.2"/><use href="#m3" x="895.41" y="862.2"/><use href="#m3" x="898.1" y="862.2"/><use href="#m3" x="900.78" y="862.2"/><use href="#m3" x="903.47" y="862.2"/><use href="#m3" x="906.15" y="862.2"/><use href="#m3" x="908.84" y="862.2"/><use href="#m3" x="911.52" y="862.2"/><use href="#m3" x="914.21" y="862.2"/><use href="#m3" x="916.89" y="862.2"/><use href="#m3" x="919.58" y="862.2"/><use href="#m3" x="922.26" y="862.2"/><use href="#m3" x="924.95" y="862.2"/><use href="#m3" x="927.63" y="862.2"/><use href="#m3" x="930.32" y="862.2"/><use href="#m3" x="933" y="862.2"/><use href="#m3" x="935.69" y="862.2"/><use href="#m3" x="938.37" y="862.2"/><use href="#m3" x="941.06" y="862.2"/><use href="#m3" x="943.74" y="862.2"/><use href="#m3" x="946.43" y="862.2"/><use href="#m3" x="949.11" y="862.2"/><use href="#m3" x="951.8" y="862.2"/><use href="#m3" x="954.48" y="862.2"/><use href="#m3" x="957.17" y="862.2"/><use href="#m3" x="959.85" y="862.2"/><use href="#m3" x="962.54" y="862.2"/><use href="#m3" x="965.23" y="862.2"/><use href="#m3" x="967.91" y="862.2"/><use href="#m3" x="970.6" y="862.2"/><use href="#m3" x="973.28" y="862.2"/><use href="#m3" x="975.97" y="862.2"/><use href="#m3" x="978.65" y="862.2"/><use href="#m3" x="981.34" y="862.2"/><use href="#m3" x="984.02" y="862.2"/><use href="#m3" x="986.71" y="862.2"/><use href="#m3" x="989.39" y="862.2"/><use href="#m3" x="992.08" y="862.2"/><use href="#m3" x="994.76" y="862.2"/><use href="#m3" x="997.45" y="862.2"/><use href="#m3" x="1000.13" y="862.2"/><use href="#m3" x="1002.82" y="862.2"/><use href="#m3" x="1005.5" y="862.2"/><use href="#m3" x="1008.19" y="862.2"/><use href="#m3" x="1010.87" y="862.2"/><use href="#m3" x="1013.56" y="862.2"/><use href="#m3" x="1016.24" y="862.2"/><use href="#m3" x="1018.93" y="862.2"/><use href="#m3" x="1021.61" y="862.2"/><use href="#m3" x="1024.3" y="862.2"/><use href="#m3" x="1026.98" y="862.2"/><use href="#m3" x="1029.67" y="862.2"/><use href="#m3" x="1032.35" y="862.2"/><use href="#m3" x="1035.04" y="862.2"/><use href="#m3" x="1037.72" y="862.2"/><use href="#m3" x="1040.41" y="862.2"/><use href="#m3" x="1043.09" y="862.2"/><use href="#m3" x="1045.78" y="862.2"/><use href="#m3" x="1048.46" y="862.2"/><use href="#m3" x="1051.15" y="862.2"/><use href="#m3" x="1053.83" y="862.2"/><use href="#m3" x="1056.52" y="862.2"/><use href="#m3" x="1059.2" y="862.2"/><use href="#m3" x="1061.89" y="862.2"/><use href="#m3" x="1064.57" y="862.2"/><use href="#m3" x="1067.26" y="862.2"/><use href="#m3" x="1069.94" y="862.2"/><use href="#m3" x="1072.63" y="862.2"/><use href="#m3" x="1075.32" y="862.2"/><use href="#m3" x="1078" y="862.2"/><use href="#m3" x="1080.69" y="862.2"/><use href="#m3" x="1083.37" y="862.2"/><use href="#m3" x="1086.06" y="862.2"/><use href="#m3" x="1088.74" y="862.2"/><use href="#m3" x="1091.43" y="862.2"/><use href="#m3" x="1094.11" y="862.2"/><use href="#m3" x="1096.8" y="862.2"/><use href="#m3" x="1099.48" y="862.2"/><use href="#m3" x="1102.17" y="862.2"/><use href="#m3" x="1104.85" y="862.2"/><use href="#m3" x="1107.54" y="862.2"/><use href="#m3" x="1110.22" y="862.2"/><use href="#m3" x="1112.91" y="862.2"/><use href="#m3" x="1115.59" y="862.2"/><use href="#m3" x="1118.28" y="862.2"/><use href="#m3" x="1120.96" y="862.2"/><use href="#m3" x="1123.65" y="862.2"/><use href="#m3" x="1126.33" y="862.2"/><use href="#m3" x="1129.02" y="862.2"/><use href="#m3" x="1131.7" y="862.2"/><use href="#m3" x="1134.39" y="862.2"/><use href="#m3" x="1137.07" y="862.2"/><use href="#m3" x="1139.76" y="862.2"/><use href="#m3" x="1142.44" y="862.2"/><use href="#m3" x="1145.13" y="862.2"/><use href="#m3" x="1147.81" y="862.2"/><use href="#m3" x="1150.5" y="862.2"/><use href="#m3" x="1153.18" y="862.2"/><use href="#m3" x="1155.87" y="862.2"/><use href="#m3" x="1158.55" y="862.2"/><use href="#m3" x="1161.24" y="862.2"/><use href="#m3" x="1163.92" y="862.2"/><use href="#m3" x="1166.61" y="862.2"/><use href="#m3" x="1169.29" y="862.2"/><use href="#m3" x="1171.98" y="862.2"/><use href="#m3" x="1174.66" y="862.2"/>
</g>
<path d="M103.3,862.2v-9.0M103.3,31.4v9.0M237.56,862.2v-9.0M237.56,31.4v9.0M371.81,862.2v-9.0M371.81,31.4v9.0M506.07,862.2v-9.0M506.07,31.4v9.0M640.32,862.2v-9.0M640.32,31.4v9.0M774.58,862.2v-9.0M774.58,31.4v9.0M908.84,862.2v-9.0M908.84,31.4v9.0M1043.09,862.2v-9.0M1043.09,31.4v9.0M1177.35,862.2v-9.0M1177.35,31.4v9.0M103.3,862.2h9.0M1177.35,862.2h-9.0M103.3,769.89h9.0M1177.35,769.89h-9.0M103.3,677.58h9.0M1177.35,677.58h-9.0M103.3,585.27h9.0M1177.35,585.27h-9.0M103.3,492.96h9.0M1177.35,492.96h-9.0M103.3,400.64h9.0M1177.35,400.64h-9.0M103.3,308.33h9.0M1177.35,308.33h-9.0M103.3,216.02h9.0M1177.35,216.02h-9.0M103.3,123.71h9.0M1177.35,123.71h-9.0M103.3,31.4h9.0M1177.35,31.4h-9.0" stroke="#000" stroke-width="1.2" fill="none"/>
<rect x="103.3" y="31.4" width="1074.05" height="830.8" fill="none" stroke="#000" stroke-width="2.3"/>
<text transform="translate(375,19) scale(0.91,1)" font-size="22.8" text-anchor="middle">B</text><text x="387.35" y="19" font-size="22.8" text-anchor="middle">i</text><text transform="translate(399.36,19) scale(1,0.9)" font-size="22.8" text-anchor="middle">n</text><text transform="translate(411.42,19) scale(0.93,0.9)" font-size="22.8" text-anchor="middle">o</text><text transform="translate(423.46,19) scale(0.7,0.9)" font-size="22.8" text-anchor="middle">m</text><text x="435.51" y="19" font-size="22.8" text-anchor="middle">i</text><text transform="translate(447.12,19) scale(0.87,0.9)" font-size="22.8" text-anchor="middle">a</text><text x="459.57" y="19" font-size="22.8" text-anchor="middle">l</text><text x="471.62" y="19" font-size="22.8" text-anchor="middle">:</text><text transform="translate(495.68,19) scale(1,0.9)" font-size="22.8" text-anchor="middle">n</text><text x="507.75" y="19" font-size="22.8" text-anchor="middle">=</text><text transform="translate(519.85,19) scale(0.9,1)" font-size="22.8" text-anchor="middle">4</text><text transform="translate(531.82,19) scale(0.9,1)" font-size="22.8" text-anchor="middle">0</text><text transform="translate(543.86,19) scale(0.9,1)" font-size="22.8" text-anchor="middle">0</text><text x="553.62" y="19" font-size="22.8" text-anchor="middle">,</text><text transform="translate(567.71,19) scale(0.88,1)" font-size="22.8" text-anchor="middle">p</text><text x="579.99" y="19" font-size="22.8" text-anchor="middle">=</text><text transform="translate(592.02,19) scale(0.9,1)" font-size="22.8" text-anchor="middle">0</text><text x="601.1" y="19" font-size="22.8" text-anchor="middle">.</text><text transform="translate(616.12,19) scale(0.9,1)" font-size="22.8" text-anchor="middle">5</text><text x="625.86" y="19" font-size="22.8" text-anchor="middle">,</text><text transform="translate(639.95,19) scale(0.88,1)" font-size="22.8" text-anchor="middle">p</text><text x="652.23" y="19" font-size="22.8" text-anchor="middle">=</text><text transform="translate(664.26,19) scale(0.9,1)" font-size="22.8" text-anchor="middle">0</text><text x="673.34" y="19" font-size="22.8" text-anchor="middle">.</text><text transform="translate(688.34,19) scale(0.9,1)" font-size="22.8" text-anchor="middle">2</text><text transform="translate(700.4,19) scale(0.9,1)" font-size="22.8" text-anchor="middle">5</text><text x="710.14" y="19" font-size="22.8" text-anchor="middle">,</text><text transform="translate(724.23,19) scale(0.88,1)" font-size="22.8" text-anchor="middle">p</text><text x="736.51" y="19" font-size="22.8" text-anchor="middle">=</text><text transform="translate(748.54,19) scale(0.9,1)" font-size="22.8" text-anchor="middle">0</text><text x="757.62" y="19" font-size="22.8" text-anchor="middle">.</text><use href="#one" transform="translate(774.22,19) scale(22.8)"/><text transform="translate(784.66,19) scale(0.9,1)" font-size="22.8" text-anchor="middle">2</text><text transform="translate(796.72,19) scale(0.9,1)" font-size="22.8" text-anchor="middle">5</text><text x="806.46" y="19" font-size="22.8" text-anchor="middle">,</text><text transform="translate(820.55,19) scale(0.88,1)" font-size="22.8" text-anchor="middle">p</text><text x="832.83" y="19" font-size="22.8" text-anchor="middle">=</text><text transform="translate(844.86,19) scale(0.9,1)" font-size="22.8" text-anchor="middle">0</text><text x="853.94" y="19" font-size="22.8" text-anchor="middle">.</text><text transform="translate(868.94,19) scale(0.9,1)" font-size="22.8" text-anchor="middle">0</text><text transform="translate(880.91,19) scale(0.9,1)" font-size="22.8" text-anchor="middle">6</text><text transform="translate(893.02,19) scale(0.9,1)" font-size="22.8" text-anchor="middle">2</text><text transform="translate(905.08,19) scale(0.9,1)" font-size="22.8" text-anchor="middle">5</text><text transform="translate(411,924.2) scale(0.8,1)" font-size="22.8" text-anchor="middle">N</text><text transform="translate(423.05,924.2) scale(0.92,0.9)" font-size="22.8" text-anchor="middle">u</text><text transform="translate(435.06,924.2) scale(0.7,0.9)" font-size="22.8" text-anchor="middle">m</text><text transform="translate(446.86,924.2) scale(0.88,1)" font-size="22.8" text-anchor="middle">b</text><text transform="translate(459.14,924.2) scale(0.85,0.9)" font-size="22.8" text-anchor="middle">e</text><text transform="translate(470.36,924.2) scale(1.4,0.9)" font-size="22.8" text-anchor="middle" stroke="#fff" stroke-width="0.3">r</text><text transform="translate(495.21,924.2) scale(0.93,0.9)" font-size="22.8" text-anchor="middle">o</text><text transform="translate(506.97,924.2) scale(1.5,1)" font-size="22.8" text-anchor="middle" stroke="#fff" stroke-width="0.3">f</text><text transform="translate(531.3,924.2) scale(0.7,0.9)" font-size="22.8" text-anchor="middle">m</text><text transform="translate(542.91,924.2) scale(0.87,0.9)" font-size="22.8" text-anchor="middle">a</text><text x="555.35" y="924.2" font-size="22.8" text-anchor="middle">l</text><text x="567.4" y="924.2" font-size="22.8" text-anchor="middle">i</text><text transform="translate(579.25,924.2) scale(0.92,0.9)" font-size="22.8" text-anchor="middle">c</text><text x="591.46" y="924.2" font-size="22.8" text-anchor="middle">i</text><text transform="translate(603.48,924.2) scale(0.93,0.9)" font-size="22.8" text-anchor="middle">o</text><text transform="translate(615.53,924.2) scale(0.92,0.9)" font-size="22.8" text-anchor="middle">u</text><text transform="translate(627.63,924.2) scale(0.96,0.9)" font-size="22.8" text-anchor="middle">s</text><text x="653.24" y="924.2" font-size="22.8" text-anchor="middle">(</text><text transform="translate(663.36,924.2) scale(1.5,1)" font-size="22.8" text-anchor="middle" stroke="#fff" stroke-width="0.3">f</text><text x="675.67" y="924.2" font-size="22.8" text-anchor="middle">i</text><text transform="translate(686.9,924.2) scale(1.4,0.9)" font-size="22.8" text-anchor="middle" stroke="#fff" stroke-width="0.3">r</text><text transform="translate(699.81,924.2) scale(0.96,0.9)" font-size="22.8" text-anchor="middle">s</text><text transform="translate(711.62,924.2) scale(1.5,1)" font-size="22.8" text-anchor="middle" stroke="#fff" stroke-width="0.3">t</text><text x="735.8" y="924.2" font-size="22.8" text-anchor="middle">l</text><text transform="translate(747.86,924.2) scale(0.85,0.9)" font-size="22.8" text-anchor="middle">e</text><text transform="translate(759.87,924.2) scale(0.9,0.9)" font-size="22.8" text-anchor="middle">v</text><text transform="translate(771.92,924.2) scale(0.85,0.9)" font-size="22.8" text-anchor="middle">e</text><text x="783.92" y="924.2" font-size="22.8" text-anchor="middle">l</text><text x="794.32" y="924.2" font-size="22.8" text-anchor="middle">)</text><text transform="translate(820,924.2) scale(1,0.9)" font-size="22.8" text-anchor="middle">n</text><text transform="translate(832.05,924.2) scale(0.93,0.9)" font-size="22.8" text-anchor="middle">o</text><text transform="translate(844.31,924.2) scale(0.88,1)" font-size="22.8" text-anchor="middle">d</text><text transform="translate(856.13,924.2) scale(0.85,0.9)" font-size="22.8" text-anchor="middle">e</text><text transform="translate(868.23,924.2) scale(0.96,0.9)" font-size="22.8" text-anchor="middle">s</text><g transform="translate(19.9,687.9) rotate(-90)"><text transform="translate(0,0) scale(0.85,1)" font-size="22.8" text-anchor="middle">T</text><text transform="translate(11.97,0) scale(0.92,1)" font-size="22.8" text-anchor="middle">h</text><text transform="translate(24.06,0) scale(0.85,0.9)" font-size="22.8" text-anchor="middle">e</text><text transform="translate(47.85,0) scale(0.88,1)" font-size="22.8" text-anchor="middle">p</text><text transform="translate(59.31,0) scale(1.4,0.9)" font-size="22.8" text-anchor="middle" stroke="#fff" stroke-width="0.3">r</text><text transform="translate(72.12,0) scale(0.93,0.9)" font-size="22.8" text-anchor="middle">o</text><text transform="translate(83.91,0) scale(0.88,1)" font-size="22.8" text-anchor="middle">b</text><text transform="translate(95.74,0) scale(0.87,0.9)" font-size="22.8" text-anchor="middle">a</text><text transform="translate(107.95,0) scale(0.88,1)" font-size="22.8" text-anchor="middle">b</text><text x="120.21" y="0" font-size="22.8" text-anchor="middle">i</text><text x="132.21" y="0" font-size="22.8" text-anchor="middle">l</text><text x="144.25" y="0" font-size="22.8" text-anchor="middle">i</text><text transform="translate(156.13,0) scale(1.5,1)" font-size="22.8" text-anchor="middle" stroke="#fff" stroke-width="0.3">t</text><text transform="translate(168.27,0) scale(0.9,1)" font-size="22.8" text-anchor="middle">y</text><text transform="translate(192.32,0) scale(0.93,0.9)" font-size="22.8" text-anchor="middle">o</text><text transform="translate(204.07,0) scale(1.5,1)" font-size="22.8" text-anchor="middle" stroke="#fff" stroke-width="0.3">f</text><text transform="translate(227.96,0) scale(0.87,0.9)" font-size="22.8" text-anchor="middle">a</text><text transform="translate(252.51,0) scale(0.96,0.9)" font-size="22.8" text-anchor="middle">s</text><text transform="translate(264.39,0) scale(0.92,1)" font-size="22.8" text-anchor="middle">h</text><text transform="translate(276.04,0) scale(0.87,0.9)" font-size="22.8" text-anchor="middle">a</text><text transform="translate(287.69,0) scale(1.4,0.9)" font-size="22.8" text-anchor="middle" stroke="#fff" stroke-width="0.3">r</text><text transform="translate(300.73,0) scale(0.88,1)" font-size="22.8" text-anchor="middle">d</text><text transform="translate(324.31,0) scale(0.88,1)" font-size="22.8" text-anchor="middle">b</text><text transform="translate(336.58,0) scale(0.85,0.9)" font-size="22.8" text-anchor="middle">e</text><text x="348.59" y="0" font-size="22.8" text-anchor="middle">i</text><text transform="translate(360.58,0) scale(1,0.9)" font-size="22.8" text-anchor="middle">n</text><text transform="translate(372.85,0) scale(0.9,1)" font-size="22.8" text-anchor="middle">g</text><text transform="translate(396.24,0) scale(0.87,0.9)" font-size="22.8" text-anchor="middle">a</text><text transform="translate(408.55,0) scale(1.5,1)" font-size="22.8" text-anchor="middle" stroke="#fff" stroke-width="0.3">t</text><text transform="translate(420.57,0) scale(1.5,1)" font-size="22.8" text-anchor="middle" stroke="#fff" stroke-width="0.3">t</text><text transform="translate(432.3,0) scale(0.87,0.9)" font-size="22.8" text-anchor="middle">a</text><text transform="translate(444.57,0) scale(0.92,0.9)" font-size="22.8" text-anchor="middle">c</text><text transform="translate(456.05,0) scale(0.9,1)" font-size="22.8" text-anchor="middle">k</text><text transform="translate(468.8,0) scale(0.85,0.9)" font-size="22.8" text-anchor="middle">e</text><text transform="translate(481.03,0) scale(0.88,1)" font-size="22.8" text-anchor="middle">d</text></g><text transform="translate(103,891.2) scale(0.917,1)" font-size="28.4" text-anchor="middle">0</text><text transform="translate(230.13,891.2) scale(0.917,1)" font-size="28.4" text-anchor="middle">5</text><text transform="translate(244.41,891.2) scale(0.917,1)" font-size="28.4" text-anchor="middle">0</text><use href="#one" transform="translate(359.2,891.2) scale(28.4)"/><text transform="translate(371.51,891.2) scale(0.917,1)" font-size="28.4" text-anchor="middle">0</text><text transform="translate(385.81,891.2) scale(0.917,1)" font-size="28.4" text-anchor="middle">0</text><use href="#one" transform="translate(493.46,891.2) scale(28.4)"/><text transform="translate(505.79,891.2) scale(0.917,1)" font-size="28.4" text-anchor="middle">5</text><text transform="translate(520.07,891.2) scale(0.917,1)" font-size="28.4" text-anchor="middle">0</text><text transform="translate(625.72,891.2) scale(0.917,1)" font-size="28.4" text-anchor="middle">2</text><text transform="translate(640.02,891.2) scale(0.917,1)" font-size="28.4" text-anchor="middle">0</text><text transform="translate(654.32,891.2) scale(0.917,1)" font-size="28.4" text-anchor="middle">0</text><text transform="translate(759.98,891.2) scale(0.917,1)" font-size="28.4" text-anchor="middle">2</text><text transform="translate(774.31,891.2) scale(0.917,1)" font-size="28.4" text-anchor="middle">5</text><text transform="translate(788.58,891.2) scale(0.917,1)" font-size="28.4" text-anchor="middle">0</text><text transform="translate(894.31,891.2) scale(0.917,1)" font-size="28.4" text-anchor="middle">3</text><text transform="translate(908.54,891.2) scale(0.917,1)" font-size="28.4" text-anchor="middle">0</text><text transform="translate(922.84,891.2) scale(0.917,1)" font-size="28.4" text-anchor="middle">0</text><text transform="translate(1028.57,891.2) scale(0.917,1)" font-size="28.4" text-anchor="middle">3</text><text transform="translate(1042.82,891.2) scale(0.917,1)" font-size="28.4" text-anchor="middle">5</text><text transform="translate(1057.09,891.2) scale(0.917,1)" font-size="28.4" text-anchor="middle">0</text><text transform="translate(1162.83,891.2) scale(0.917,1)" font-size="28.4" text-anchor="middle">4</text><text transform="translate(1177.05,891.2) scale(0.917,1)" font-size="28.4" text-anchor="middle">0</text><text transform="translate(1191.35,891.2) scale(0.917,1)" font-size="28.4" text-anchor="middle">0</text><text transform="translate(43,869.7) scale(0.917,1)" font-size="28.4" text-anchor="middle">0</text><text x="53.5" y="869.7" font-size="28.4" text-anchor="middle">.</text><text transform="translate(71.4,869.7) scale(0.917,1)" font-size="28.4" text-anchor="middle">0</text><text transform="translate(85.55,869.7) scale(0.917,1)" font-size="28.4" text-anchor="middle">0</text><text transform="translate(43,777.39) scale(0.917,1)" font-size="28.4" text-anchor="middle">0</text><text x="53.5" y="777.39" font-size="28.4" text-anchor="middle">.</text><text transform="translate(71.4,777.39) scale(0.917,1)" font-size="28.4" text-anchor="middle">0</text><use href="#one" transform="translate(87.54,777.39) scale(28.4)"/><text transform="translate(43,685.08) scale(0.917,1)" font-size="28.4" text-anchor="middle">0</text><text x="53.5" y="685.08" font-size="28.4" text-anchor="middle">.</text><text transform="translate(71.4,685.08) scale(0.917,1)" font-size="28.4" text-anchor="middle">0</text><text transform="translate(85.55,685.08) scale(0.917,1)" font-size="28.4" text-anchor="middle">2</text><text transform="translate(43,592.77) scale(0.917,1)" font-size="28.4" text-anchor="middle">0</text><text x="53.5" y="592.77" font-size="28.4" text-anchor="middle">.</text><text transform="translate(71.4,592.77) scale(0.917,1)" font-size="28.4" text-anchor="middle">0</text><text transform="translate(85.63,592.77) scale(0.917,1)" font-size="28.4" text-anchor="middle">3</text><text transform="translate(43,500.46) scale(0.917,1)" font-size="28.4" text-anchor="middle">0</text><text x="53.5" y="500.46" font-size="28.4" text-anchor="middle">.</text><text transform="translate(71.4,500.46) scale(0.917,1)" font-size="28.4" text-anchor="middle">0</text><text transform="translate(85.63,500.46) scale(0.917,1)" font-size="28.4" text-anchor="middle">4</text><text transform="translate(43,408.14) scale(0.917,1)" font-size="28.4" text-anchor="middle">0</text><text x="53.5" y="408.14" font-size="28.4" text-anchor="middle">.</text><text transform="translate(71.4,408.14) scale(0.917,1)" font-size="28.4" text-anchor="middle">0</text><text transform="translate(85.58,408.14) scale(0.917,1)" font-size="28.4" text-anchor="middle">5</text><text transform="translate(43,315.83) scale(0.917,1)" font-size="28.4" text-anchor="middle">0</text><text x="53.5" y="315.83" font-size="28.4" text-anchor="middle">.</text><text transform="translate(71.4,315.83) scale(0.917,1)" font-size="28.4" text-anchor="middle">0</text><text transform="translate(85.46,315.83) scale(0.917,1)" font-size="28.4" text-anchor="middle">6</text><text transform="translate(43,223.52) scale(0.917,1)" font-size="28.4" text-anchor="middle">0</text><text x="53.5" y="223.52" font-size="28.4" text-anchor="middle">.</text><text transform="translate(71.4,223.52) scale(0.917,1)" font-size="28.4" text-anchor="middle">0</text><text transform="translate(85.54,223.52) scale(0.917,1)" font-size="28.4" text-anchor="middle">7</text><text transform="translate(43,131.21) scale(0.917,1)" font-size="28.4" text-anchor="middle">0</text><text x="53.5" y="131.21" font-size="28.4" text-anchor="middle">.</text><text transform="translate(71.4,131.21) scale(0.917,1)" font-size="28.4" text-anchor="middle">0</text><text transform="translate(85.55,131.21) scale(0.917,1)" font-size="28.4" text-anchor="middle">8</text><text transform="translate(43,38.9) scale(0.917,1)" font-size="28.4" text-anchor="middle">0</text><text x="53.5" y="38.9" font-size="28.4" text-anchor="middle">.</text><text transform="translate(71.4,38.9) scale(0.917,1)" font-size="28.4" text-anchor="middle">0</text><text transform="translate(85.56,38.9) scale(0.917,1)" font-size="28.4" text-anchor="middle">9</text>
<rect x="983.45" y="48.65" width="176.6" height="194.5" fill="#fff" stroke="#000" stroke-width="2.3"/><path d="M1007.5,74.6H1056.25" stroke="#0000ff" stroke-width="1.18"/><use href="#m0" x="1007.5" y="74.6"/><use href="#m0" x="1056.25" y="74.6"/><text x="1094.2" y="85.9" font-size="32">k=</text><path d="M1139,62.1V85.8H1136.2V65.8L1132.6,69.4L1131.9,66.6L1136.6,62.1Z"/><path d="M1007.5,120.75H1056.25" stroke="#008000" stroke-width="1.18"/><use href="#m1" x="1007.5" y="120.75"/><use href="#m1" x="1056.25" y="120.75"/><text x="1094.2" y="132.05" font-size="32">k=2</text><path d="M1007.5,166.6H1056.25" stroke="#ff0000" stroke-width="1.18"/><use href="#m2" x="1007.5" y="166.6"/><use href="#m2" x="1056.25" y="166.6"/><text x="1094.2" y="177.9" font-size="32">k=3</text><path d="M1007.5,212.85H1056.25" stroke="#00bfbf" stroke-width="1.18"/><use href="#m3" x="1007.5" y="212.85"/><use href="#m3" x="1056.25" y="212.85"/><text x="1094.2" y="224.15" font-size="32">k=4</text>
</svg>
</body></html>
